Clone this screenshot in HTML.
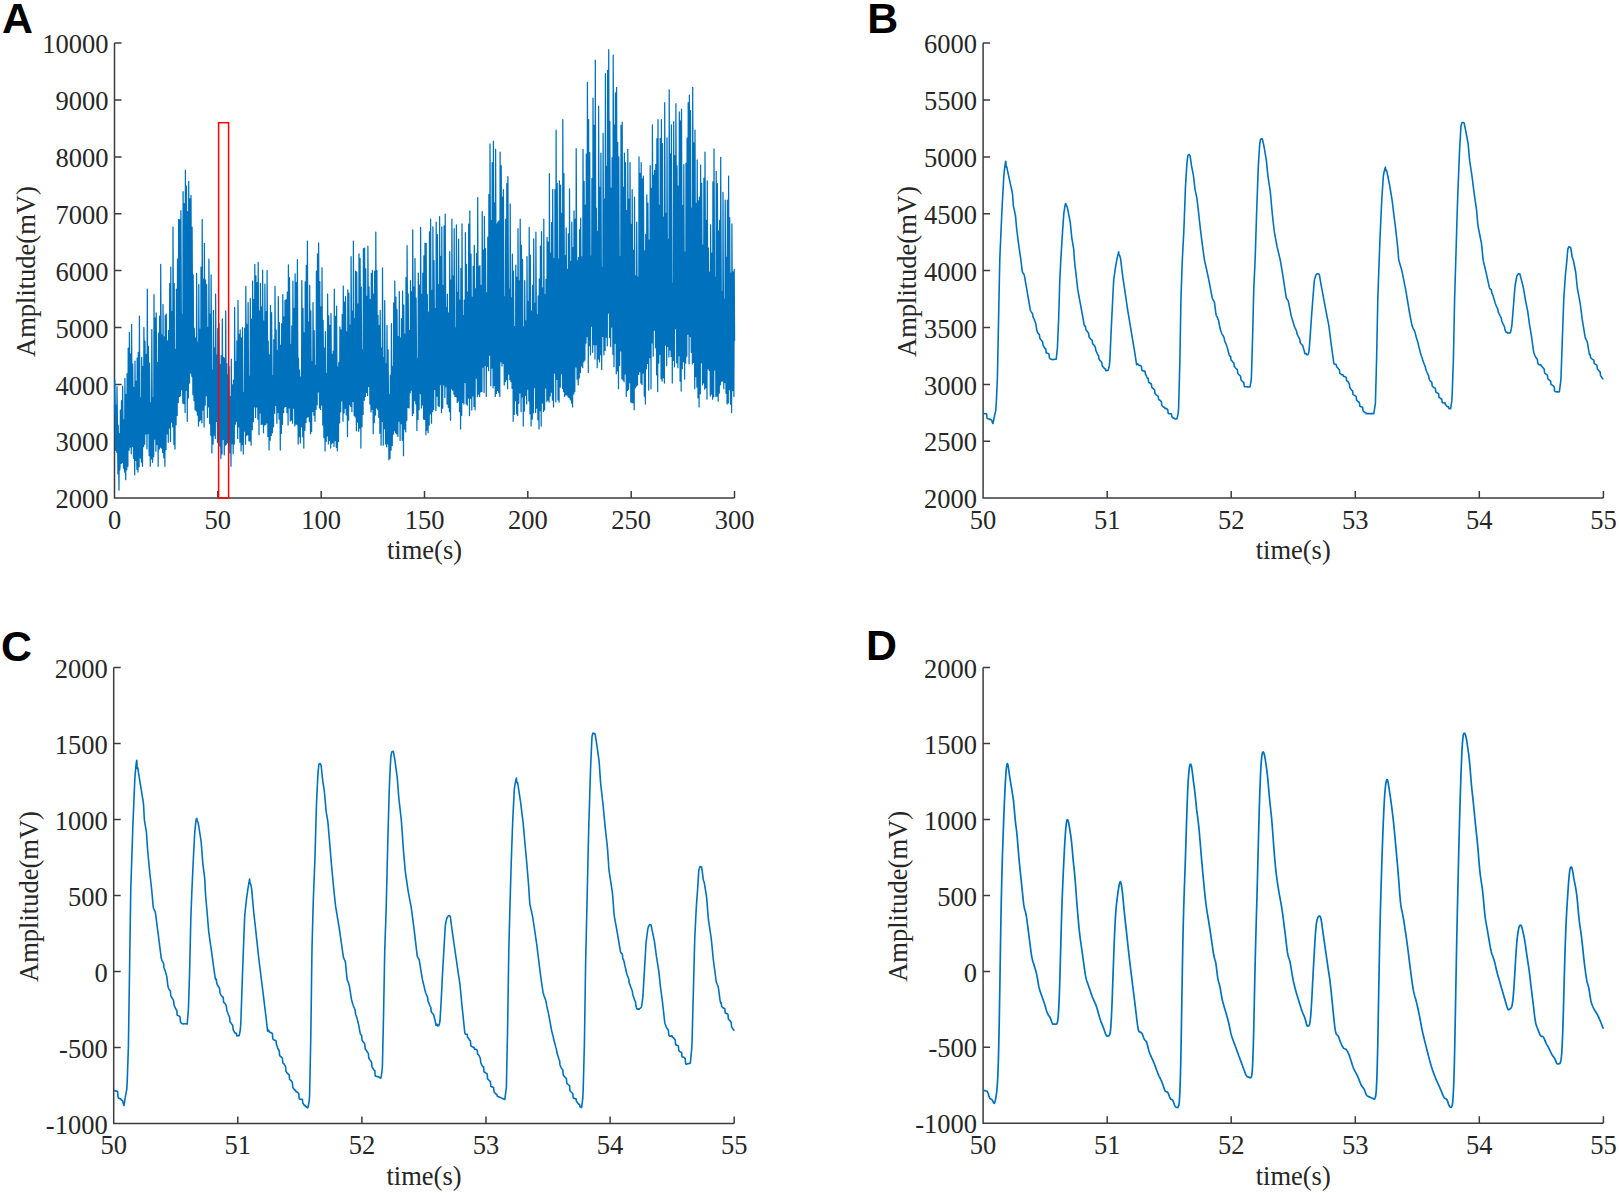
<!DOCTYPE html>
<html lang="en">
<head>
<meta charset="utf-8">
<title>Figure</title>
<style>
html,body{margin:0;padding:0;background:#fff;}
body{width:1619px;height:1193px;overflow:hidden;}
svg{display:block;}
</style>
</head>
<body>
<svg width="1619" height="1193" viewBox="0 0 1619 1193">
<rect width="1619" height="1193" fill="#fff"/>
<path d="M114.5 43.1V498.1H734.5M114.5 498.1v-7M217.8 498.1v-7M321.2 498.1v-7M424.5 498.1v-7M527.8 498.1v-7M631.2 498.1v-7M734.5 498.1v-7M114.5 498.1h7M114.5 441.2h7M114.5 384.4h7M114.5 327.5h7M114.5 270.6h7M114.5 213.7h7M114.5 156.9h7M114.5 100h7M114.5 43.1h7" fill="none" stroke="#3c3c3c" stroke-width="1.5"/>
<g font-family="'Liberation Serif', 'Times New Roman', serif" font-size="26.5" fill="#262626">
<text x="114.5" y="528.7" text-anchor="middle">0</text>
<text x="217.8" y="528.7" text-anchor="middle">50</text>
<text x="321.2" y="528.7" text-anchor="middle">100</text>
<text x="424.5" y="528.7" text-anchor="middle">150</text>
<text x="527.8" y="528.7" text-anchor="middle">200</text>
<text x="631.2" y="528.7" text-anchor="middle">250</text>
<text x="734.5" y="528.7" text-anchor="middle">300</text>
<text x="108.5" y="508.2" text-anchor="end">2000</text>
<text x="108.5" y="451.3" text-anchor="end">3000</text>
<text x="108.5" y="394.5" text-anchor="end">4000</text>
<text x="108.5" y="337.6" text-anchor="end">5000</text>
<text x="108.5" y="280.7" text-anchor="end">6000</text>
<text x="108.5" y="223.8" text-anchor="end">7000</text>
<text x="108.5" y="167" text-anchor="end">8000</text>
<text x="108.5" y="110.1" text-anchor="end">9000</text>
<text x="108.5" y="53.2" text-anchor="end">10000</text>
<text x="424.5" y="559.3" text-anchor="middle">time(s)</text>
<text transform="translate(35.1 271.6) rotate(-90)" text-anchor="middle">Amplitude(mV)</text>
</g>
<path d="M983.1 43.1V498.1H1603.4M983.1 498.1v-7M1107.2 498.1v-7M1231.2 498.1v-7M1355.3 498.1v-7M1479.3 498.1v-7M1603.4 498.1v-7M983.1 498.1h7M983.1 441.2h7M983.1 384.4h7M983.1 327.5h7M983.1 270.6h7M983.1 213.7h7M983.1 156.9h7M983.1 100h7M983.1 43.1h7" fill="none" stroke="#3c3c3c" stroke-width="1.5"/>
<g font-family="'Liberation Serif', 'Times New Roman', serif" font-size="26.5" fill="#262626">
<text x="983.1" y="528.7" text-anchor="middle">50</text>
<text x="1107.2" y="528.7" text-anchor="middle">51</text>
<text x="1231.2" y="528.7" text-anchor="middle">52</text>
<text x="1355.3" y="528.7" text-anchor="middle">53</text>
<text x="1479.3" y="528.7" text-anchor="middle">54</text>
<text x="1603.4" y="528.7" text-anchor="middle">55</text>
<text x="977.1" y="508.2" text-anchor="end">2000</text>
<text x="977.1" y="451.3" text-anchor="end">2500</text>
<text x="977.1" y="394.5" text-anchor="end">3000</text>
<text x="977.1" y="337.6" text-anchor="end">3500</text>
<text x="977.1" y="280.7" text-anchor="end">4000</text>
<text x="977.1" y="223.8" text-anchor="end">4500</text>
<text x="977.1" y="167" text-anchor="end">5000</text>
<text x="977.1" y="110.1" text-anchor="end">5500</text>
<text x="977.1" y="53.2" text-anchor="end">6000</text>
<text x="1293.2" y="559.3" text-anchor="middle">time(s)</text>
<text transform="translate(915.5 271.6) rotate(-90)" text-anchor="middle">Amplitude(mV)</text>
</g>
<path d="M113.7 667.5V1123.4H734.2M113.7 1123.4v-7M237.8 1123.4v-7M361.9 1123.4v-7M486 1123.4v-7M610.1 1123.4v-7M734.2 1123.4v-7M113.7 1123.4h7M113.7 1047.4h7M113.7 971.4h7M113.7 895.5h7M113.7 819.5h7M113.7 743.5h7M113.7 667.5h7" fill="none" stroke="#3c3c3c" stroke-width="1.5"/>
<g font-family="'Liberation Serif', 'Times New Roman', serif" font-size="26.5" fill="#262626">
<text x="113.7" y="1154" text-anchor="middle">50</text>
<text x="237.8" y="1154" text-anchor="middle">51</text>
<text x="361.9" y="1154" text-anchor="middle">52</text>
<text x="486" y="1154" text-anchor="middle">53</text>
<text x="610.1" y="1154" text-anchor="middle">54</text>
<text x="734.2" y="1154" text-anchor="middle">55</text>
<text x="107.7" y="1133.5" text-anchor="end">-1000</text>
<text x="107.7" y="1057.5" text-anchor="end">-500</text>
<text x="107.7" y="981.5" text-anchor="end">0</text>
<text x="107.7" y="905.6" text-anchor="end">500</text>
<text x="107.7" y="829.6" text-anchor="end">1000</text>
<text x="107.7" y="753.6" text-anchor="end">1500</text>
<text x="107.7" y="677.6" text-anchor="end">2000</text>
<text x="424" y="1184.6" text-anchor="middle">time(s)</text>
<text transform="translate(37.7 896.5) rotate(-90)" text-anchor="middle">Amplitude(mV)</text>
</g>
<path d="M983.1 667.5V1123.3H1603.4M983.1 1123.3v-7M1107.2 1123.3v-7M1231.2 1123.3v-7M1355.3 1123.3v-7M1479.3 1123.3v-7M1603.4 1123.3v-7M983.1 1123.3h7M983.1 1047.3h7M983.1 971.4h7M983.1 895.4h7M983.1 819.4h7M983.1 743.5h7M983.1 667.5h7" fill="none" stroke="#3c3c3c" stroke-width="1.5"/>
<g font-family="'Liberation Serif', 'Times New Roman', serif" font-size="26.5" fill="#262626">
<text x="983.1" y="1153.9" text-anchor="middle">50</text>
<text x="1107.2" y="1153.9" text-anchor="middle">51</text>
<text x="1231.2" y="1153.9" text-anchor="middle">52</text>
<text x="1355.3" y="1153.9" text-anchor="middle">53</text>
<text x="1479.3" y="1153.9" text-anchor="middle">54</text>
<text x="1603.4" y="1153.9" text-anchor="middle">55</text>
<text x="977.1" y="1133.4" text-anchor="end">-1000</text>
<text x="977.1" y="1057.4" text-anchor="end">-500</text>
<text x="977.1" y="981.5" text-anchor="end">0</text>
<text x="977.1" y="905.5" text-anchor="end">500</text>
<text x="977.1" y="829.5" text-anchor="end">1000</text>
<text x="977.1" y="753.6" text-anchor="end">1500</text>
<text x="977.1" y="677.6" text-anchor="end">2000</text>
<text x="1293.2" y="1184.5" text-anchor="middle">time(s)</text>
<text transform="translate(907.1 896.4) rotate(-90)" text-anchor="middle">Amplitude(mV)</text>
</g>
<g fill="none" stroke="#0072BD" stroke-linejoin="round">
<path d="M114.5 413.6L114.8 379.8L115.2 404.7L115.6 450.3L115.9 405.2L116.4 435.7L116.7 452.2L117 386.7L117.5 427.5L117.9 473.9L118.2 425.1L118.6 457.5L119 490.2L119.3 433.6L119.7 469.9L120.1 466.2L120.4 410.1L120.8 446.1L121.2 463.4L121.5 400.6L122 440L122.3 462.5L122.6 386.2L123.1 432.3L123.5 468.2L123.8 419.8L124.2 452L124.6 472.1L124.9 378.3L125.3 433.2L125.7 479.7L126 394.5L126.5 445.1L126.8 469.8L127.1 373.6L127.6 429.7L127.9 466.3L128.2 348.2L128.7 415.2L129.1 450.2L129.4 332.3L129.8 399.3L130.2 447.1L130.5 353.8L130.9 408.5L131.3 453.8L131.6 324.3L132 397.1L132.4 446.5L132.7 364.1L133.2 413.3L133.5 458.3L133.8 387.3L134.3 430.8L134.7 474.9L135 361.1L135.4 426L135.8 460.3L136.1 381.2L136.5 428.8L136.9 469.3L137.2 358L137.6 421.7L138 472L138.3 352.3L138.8 420.2L139.1 466.6L139.4 316.1L139.9 399.3L140.3 457.8L140.6 397.9L141 435.8L141.4 462.1L141.7 357.4L142.1 417.7L142.5 466.3L142.8 366.5L143.2 424.4L143.6 446.7L143.9 327.5L144.4 395.1L144.7 444.2L145 341L145.5 400.6L145.9 434L146.2 354.4L146.6 402.2L147 448.9L147.3 289.2L147.7 377.1L148.1 433.5L148.4 346.4L148.8 397.9L149.2 455.5L149.5 363.1L150 417.3L150.3 466.3L150.6 402.9L151.1 442.6L151.5 458.9L151.8 329.5L152.2 402.2L152.6 462.3L152.9 397.6L153.3 437.9L153.7 456.7L154 294.6L154.4 383.6L154.8 439.1L155.1 317.8L155.6 386.4L155.9 451.2L156.2 312.8L156.7 390L157.1 444.5L157.4 362.7L157.8 411.6L158.2 466.3L158.5 333L158.9 407.6L159.3 449.1L159.6 316.1L160 390.6L160.4 447.1L160.7 264.4L161.2 363.7L161.5 448L161.8 334.8L162.3 399.4L162.7 452.7L163 304.5L163.4 386.6L163.8 457.8L164.1 336.9L164.5 405.4L164.9 466.3L165.2 315.5L165.6 398.9L166 449.5L166.3 314.1L166.8 389.8L167.1 433.9L167.4 340.8L167.9 395.3L168.3 442.3L168.6 330.4L169 394.4L169.4 427.8L169.7 283.5L170.1 363.7L170.5 441.4L170.8 267.2L171.2 362.3L171.6 422.2L171.9 311.5L172.4 374.9L172.7 426.9L173 227L173.5 335L173.9 444.5L174.2 283.4L174.6 372L175 449L175.3 349.3L175.7 407.2L176.1 424.7L176.4 289.2L176.8 365L177.2 415.5L177.5 259.1L178 345.3L178.3 402.7L178.6 219.4L179.1 319L179.5 396.4L179.8 219.8L180.2 316.1L180.6 395.8L180.9 210.7L181.3 311.2L181.7 389.6L182 314.5L182.4 360.1L182.8 403L183.1 191.6L183.6 305.3L183.9 403.7L184.2 203.5L184.7 311.6L185.1 412.6L185.4 170L185.8 299.3L186.2 390.1L186.5 186L186.9 296.1L187.3 421.3L187.6 211.7L188.1 324.5L188.4 397.9L188.7 181.4L189.2 297.7L189.5 383L189.8 198.8L190.3 298.9L190.7 373.1L191 195.4L191.4 292.3L191.8 376.3L192.1 227L192.5 309.6L192.9 394.5L193.2 274.9L193.6 342.7L194 400.6L194.3 328.4L194.8 372.5L195.1 409.8L195.4 337.9L195.9 381.9L196.3 411.1L196.6 273.4L197 350.2L197.4 415L197.7 342.3L198.1 386.7L198.5 426.1L198.8 284.5L199.2 363.3L199.6 421.1L199.9 329.1L200.4 383.1L200.7 419.8L201 267.2L201.5 351.5L201.9 422.8L202.2 219.4L202.6 329.1L203 409.8L203.3 279.1L203.7 352.5L204.1 427L204.4 243.3L204.8 343.2L205.2 405.2L205.5 280L206 350.6L206.3 395.5L206.6 284.5L207.1 348L207.5 417.4L207.8 327.5L208.2 380.5L208.6 406.9L208.9 259.2L209.3 341L209.7 423.7L210 314.1L210.4 376.9L210.8 435.3L211.1 274.9L211.6 363.1L211.9 452.9L212.2 369.8L212.7 419.3L213.1 444.1L213.4 310.3L213.8 385.2L214.2 435.1L214.5 347.9L214.9 399.5L215.3 438.5L215.6 294L216.1 374.3L216.4 421.3L216.7 355.1L217.2 396.2L217.5 442.3L217.8 328.5L218.3 393.4L218.7 438.6L219 323.6L219.4 389.1L219.8 446.1L220.1 364.5L220.5 413.3L220.9 458.6L221.2 355.6L221.6 415.1L222 453.9L222.3 318.9L222.8 394.4L223.1 439.4L223.4 357.3L223.9 406.3L224.3 454.8L224.6 358.1L225 414.5L225.4 445.1L225.7 310.9L226.1 386L226.5 444.2L226.8 363.6L227.2 411.9L227.6 442.6L227.9 374.9L228.4 416.8L228.7 441.6L229 366.7L229.5 412.1L229.9 452.9L230.2 396.7L230.6 432.8L231 466.3L231.3 359.1L231.7 420.7L232.1 443.7L232.4 384.9L232.8 422.3L233.2 453.8L233.5 380.2L234 425L234.3 444L234.6 307.4L235.1 383.7L235.5 424.2L235.8 361.7L236.2 401L236.6 421.2L236.9 340.8L237.3 389L237.7 438.5L238 300.4L238.4 377.4L238.8 426.9L239.1 334.3L239.6 388.6L239.9 442.3L240.2 329.8L240.7 394L241.1 450.9L241.4 338L241.8 402.5L242.2 444.6L242.5 327.5L242.9 394.1L243.3 454L243.6 392.6L244.1 431.3L244.4 426.3L244.7 328.1L245.2 385.2L245.5 444.2L245.8 286.4L246.3 373.3L246.7 435.3L247 324.4L247.4 387.8L247.8 434.7L248.1 302.6L248.5 376.7L248.9 440.8L249.2 376.4L249.6 416.6L250 441L250.3 298.5L250.8 377.8L251.1 445.2L251.4 319.1L251.9 390.1L252.3 429.7L252.6 281L253 363.4L253.4 421.5L253.7 299.4L254.1 368.4L254.5 406.8L254.8 264.4L255.2 343.6L255.6 417.4L255.9 275.8L256.4 354.6L256.7 407.1L257 282.7L257.5 352.9L257.9 419.1L258.2 262.4L258.6 348.8L259 434.7L259.3 310.8L259.7 380.8L260.1 412.8L260.4 283.5L260.9 356.2L261.2 424.5L261.5 306.9L262 373.7L262.3 424L262.6 270.1L263.1 355.1L263.5 432.8L263.8 321L264.2 384.9L264.6 424.9L264.9 284.1L265.3 362.5L265.7 424.4L266 311.6L266.4 376L266.8 422.9L267.1 270.5L267.6 354.7L267.9 436.4L268.2 341.2L268.7 396.8L269.1 450L269.4 354.9L269.8 410.4L270.2 440.2L270.5 305.5L270.9 380.9L271.3 435.5L271.6 312.6L272.1 382L272.4 432.8L272.7 375.8L273.2 412.3L273.5 426.8L273.8 339.7L274.3 391.2L274.7 413.3L275 286.4L275.4 357.9L275.8 405.4L276.1 329.9L276.5 375.7L276.9 423.2L277.2 350.5L277.6 394.8L278 412.5L278.3 296.5L278.8 362.5L279.1 419.1L279.4 322.7L279.9 378.9L280.3 450L280.6 345.2L281 405.6L281.4 433.4L281.7 323.6L282.1 386.5L282.5 424.3L282.8 294.6L283.2 367.4L283.6 412.6L283.9 316.9L284.4 372.8L284.7 407L285 300.3L285.5 361.7L285.9 406.4L286.2 299.7L286.6 361L287 412.7L287.3 292.1L287.7 360.4L288.1 425.1L288.4 264.9L288.9 353L289.2 407.8L289.5 277.7L290 350.7L290.3 421.1L290.6 344.6L291.1 390.8L291.5 420.1L291.8 325.9L292.2 381L292.6 423.2L292.9 281L293.3 360.1L293.7 408.2L294 308.4L294.4 366.3L294.8 425.9L295.1 273.9L295.6 357.9L295.9 424L296.2 282.3L296.7 361.2L297.1 424.5L297.4 259.6L297.8 350L298.2 444.2L298.5 358.4L298.9 409.3L299.3 436.6L299.6 370L300.1 411.3L300.4 442.9L300.7 377L301.2 418L301.5 426.8L301.8 280.6L302.3 361.7L302.7 436.8L303 308.4L303.4 380.6L303.8 448.1L304.1 332.9L304.5 398.5L304.9 430.3L305.2 281.8L305.6 364L306 422.6L306.3 265.3L306.8 351.9L307.1 417.4L307.4 241L307.9 337.2L308.3 416.6L308.6 322.2L309 377.4L309.4 421.7L309.7 285.3L310.1 361.5L310.5 433.7L310.8 310.9L311.2 380.3L311.6 431.6L311.9 361.5L312.4 404.6L312.7 411.5L313 302.6L313.5 365.1L313.9 415.3L314.2 330.7L314.6 381L315 421.3L315.3 365.7L315.7 401.5L316.1 409.4L316.4 271.1L316.9 348.2L317.2 404.8L317.5 253.8L318 337.3L318.3 391.8L318.6 242.9L319.1 325.3L319.5 407.9L319.8 281.6L320.2 352.7L320.6 409.4L320.9 306.8L321.3 366.1L321.7 405L322 267.8L322.4 344.4L322.8 425.1L323.1 320.4L323.6 380.7L323.9 437.7L324.2 348.1L324.7 400.9L325.1 450.9L325.4 331.7L325.8 399.3L326.2 441.3L326.5 373.5L326.9 415.4L327.3 435.9L327.6 294L328.1 373L328.4 443.9L328.7 315.9L329.2 387.9L329.5 440.5L329.8 325.4L330.3 391L330.7 448.1L331 313.5L331.4 388.8L331.8 443.6L332.1 354.4L332.5 407L332.9 442.4L333.2 351.2L333.7 404.8L334 446.4L334.3 289.2L334.8 375.8L335.1 440.5L335.4 316.4L335.9 386.5L336.3 447.3L336.6 306.2L337 384.7L337.4 450.9L337.7 367L338.1 417L338.5 441.6L338.8 362.3L339.2 409.9L339.6 422.8L339.9 327L340.4 382.9L340.7 411.8L341 330L341.5 378.9L341.9 400.8L342.2 314.4L342.6 365.6L343 421.3L343.3 286L343.7 361.6L344.1 413L344.4 302.1L344.9 365.5L345.2 408.3L345.5 296.7L346 360.5L346.3 414.8L346.6 332L347.1 381.4L347.5 436.6L347.8 289.8L348.2 371.2L348.6 420.2L348.9 293.1L349.3 364.6L349.7 404.6L350 325.1L350.4 372.8L350.8 406.4L351.1 256.7L351.6 339.6L351.9 411.7L352.2 311.1L352.7 369.4L353.1 401.6L353.4 241L353.8 329.3L354.2 415.5L354.5 318.6L354.9 375L355.3 416.8L355.6 271.2L356.1 352L356.4 430.8L356.7 272L357.2 359.4L357.5 422.1L357.8 304.2L358.3 371.2L358.7 431.3L359 253.8L359.4 350.6L359.8 428.1L360.1 258.3L360.5 351.2L360.9 448.1L361.2 287L361.7 375.6L362 426.7L362.3 349.8L362.8 396.2L363.1 414.4L363.4 248.7L363.9 339.5L364.3 400.2L364.6 248.1L365 332.1L365.4 396.6L365.7 268.8L366.1 340.7L366.5 392.4L366.8 296.3L367.2 352.3L367.6 395.6L367.9 246.2L368.4 328.9L368.7 386.3L369 286.9L369.5 344.6L369.9 404L370.2 299.5L370.6 359.8L371 412L371.3 273.5L371.7 350.7L372.1 409.3L372.4 270.5L372.9 347.9L373.2 433.7L373.5 294.2L374 372L374.3 422.7L374.6 271.1L375.1 354.9L375.5 415L375.8 232.2L376.2 331.6L376.6 407.9L376.9 270.7L377.3 347.3L377.7 409.5L378 315.3L378.5 370.4L378.8 417.4L379.1 325.7L379.6 379.5L379.9 433.3L380.2 310.3L380.7 379.8L381.1 445.2L381.4 348.1L381.8 404.6L382.2 421.4L382.5 267.8L382.9 352.6L383.3 445.2L383.6 357.7L384.1 409.4L384.4 428.6L384.7 300.7L385.2 372.7L385.5 443.9L385.8 363.7L386.3 411.8L386.7 446.9L387 325.7L387.4 394.3L387.8 443.8L388.1 349.9L388.5 404.8L388.9 459.8L389.2 394.5L389.7 435.1L390 458.6L390.3 375.3L390.8 425L391.1 450.1L391.4 323.7L391.9 394.9L392.3 445.4L392.6 366.4L393 413.9L393.4 434.1L393.7 302.9L394.1 376.5L394.5 430.9L394.8 281L395.2 364L395.6 432.8L395.9 297L396.4 372.9L396.7 433.9L397 309.5L397.5 379.7L397.9 436.4L398.2 336.7L398.6 394.6L399 421.2L399.3 291.5L399.7 364.4L400.1 440.5L400.4 338.2L400.9 397.3L401.2 423.7L401.5 318.6L402 379.1L402.3 440.3L402.6 291.2L403.1 373.7L403.5 455.7L403.8 305L404.2 388.4L404.6 429L404.9 334.1L405.3 389.5L405.7 431.8L406 277.5L406.5 362.7L406.8 420.3L407.1 245.6L407.6 341L407.9 407.4L408.2 293.8L408.7 358.6L409.1 407.9L409.4 330.7L409.8 377.3L410.2 392.8L410.5 280.6L410.9 344.7L411.3 390.1L411.6 291.6L412.1 348.8L412.4 415.5L412.7 229.9L413.2 330.7L413.5 413.2L413.8 287L414.3 358.1L414.7 400.7L415 258.6L415.4 337.7L415.8 403.9L416.1 298L416.5 358.9L416.9 430.5L417.2 358.5L417.7 402.5L418 419.4L418.3 273L418.8 354.2L419.1 409.6L419.4 285.1L419.9 355.4L420.3 393.7L420.6 227.4L421 318.5L421.4 407.9L421.7 294.3L422.1 359.1L422.5 404.9L422.8 273.1L423.3 347L423.6 419.1L423.9 255.8L424.4 345.4L424.7 419.4L425 243.1L425.5 339.2L425.9 434.7L426.2 243.4L426.6 347L427 430L427.3 294.5L427.7 370.2L428.1 432.8L428.4 312.2L428.9 380.5L429.2 425L429.5 231.9L430 336.5L430.3 413.8L430.6 219.2L431.1 324.5L431.5 423.2L431.8 290.3L432.2 364.7L432.6 411.6L432.9 226.8L433.3 327.2L433.7 409.4L434 260.6L434.5 343L434.8 389.4L435.1 308.6L435.6 357L435.9 410.7L436.2 222L436.7 324.4L437.1 396.2L437.4 234.6L437.8 323.4L438.2 405.8L438.5 284.6L438.9 353.2L439.3 406.6L439.6 216.7L440.1 319.6L440.4 384.5L440.7 256.5L441.2 328.5L441.5 412.6L441.8 226.8L442.3 327.7L442.7 408.2L443 285.6L443.4 354.9L443.8 384.9L444.1 225.8L444.5 313.3L444.9 397.5L445.2 214L445.7 313.7L446 386.7L446.3 307.7L446.8 355.2L447.1 404L447.4 294.2L447.9 357.1L448.3 407.3L448.6 312.9L449 368.1L449.4 411.6L449.7 251.7L450.1 339.7L450.5 420.3L450.8 280.1L451.3 358.2L451.6 388.6L451.9 219.2L452.4 311.9L452.7 390.2L453 276L453.5 341.1L453.9 394.2L454.2 228.7L454.6 319.5L455 396.4L455.3 328L455.7 370.2L456.1 396.6L456.4 224.9L456.9 318.7L457.2 402.5L457.5 292.3L458 355.4L458.3 401L458.6 239.2L459.1 328.1L459.5 411.6L459.8 300.2L460.2 363.9L460.6 428.9L460.9 268.3L461.3 356.6L461.7 415.3L462 223.9L462.5 327.6L462.8 402.4L463.1 315.7L463.6 367.1L463.9 404L464.2 300.1L464.7 360.1L465.1 382.5L465.4 232.6L465.8 315.5L466.2 403.8L466.5 264.4L466.9 342.1L467.3 405.2L467.6 292.1L468.1 356.6L468.4 397.8L468.7 224L469.2 318.9L469.5 415.5L469.8 210.9L470.3 321.2L470.7 398.3L471 254L471.4 334.2L471.8 410.1L472.1 297.2L472.5 361.6L472.9 395.8L473.2 266.4L473.7 339.1L474 406.6L474.3 245.4L474.8 334L475.1 409.8L475.4 288.8L475.9 357.3L476.3 378.2L476.6 253.3L477 323.8L477.4 396.5L477.7 197.7L478.1 305.1L478.5 394L478.8 266.8L479.3 338.4L479.6 396.4L479.9 265.5L480.4 338.9L480.7 391.9L481 285.5L481.5 346.7L481.9 391.4L482.2 211.5L482.6 309.4L483 367L483.3 250.2L483.7 316.6L484.1 392.5L484.4 216.3L484.9 312.4L485.2 365.4L485.5 248.7L486 315L486.3 396.4L486.6 292.9L487.1 352.6L487.5 366.3L487.8 237.2L488.2 309.8L488.6 370.7L488.9 194.3L489.3 290.5L489.7 355.1L490 143.9L490.5 257.5L490.8 385.8L491.1 220.5L491.6 311.2L491.9 368L492.2 162.5L492.7 273.2L493.1 387.9L493.4 141.2L493.8 272.6L494.2 385.4L494.5 202.8L494.9 302.1L495.3 396.4L495.6 149.3L496.1 280.8L496.4 393.4L496.7 224L497.2 316.7L497.5 390.4L497.8 222L498.3 314.2L498.7 392.7L499 220.7L499.4 314.7L499.8 396.4L500.1 152.1L500.5 282.3L500.9 361.6L501.2 165.5L501.7 271.6L502 366L502.3 197.1L502.8 289.5L503.1 363.3L503.4 189.5L503.9 284.4L504.3 384.9L504.6 296.9L505 348.9L505.4 381.6L505.7 219.3L506.1 308.5L506.5 379.5L506.8 183.7L507.3 289.6L507.6 388.7L507.9 176.5L508.4 290.6L508.7 374.1L509 288.9L509.5 339.5L509.9 379.7L510.2 203.8L510.6 299.8L511 381.7L511.3 297.9L511.7 347.8L512.1 388.4L512.4 254.1L512.9 329.2L513.2 421.3L513.5 271.2L514 354.2L514.3 414.4L514.6 326.6L515.1 378.5L515.5 400.7L515.8 265.1L516.2 340.9L516.6 413.8L516.9 277.2L517.3 353.5L517.7 415.5L518 228.7L518.5 330.1L518.8 403.3L519.1 280.9L519.6 350.1L519.9 392.8L520.2 219.2L520.7 314L521.1 411.7L521.4 245.1L521.8 336.4L522.2 396.8L522.5 259.4L522.9 336.1L523.3 426.1L523.6 327L524.1 384.5L524.4 411L524.7 280.6L525.2 353.8L525.5 395.4L525.8 320.9L526.3 366.2L526.7 404L527 256.5L527.4 338.3L527.8 389.2L528.1 301.5L528.5 353.4L528.9 401.1L529.2 227.4L529.7 322.2L530 413.8L530.3 255.2L530.8 342.5L531.1 426.1L531.4 311.1L531.9 376.6L532.3 419.1L532.6 285.3L533 360.2L533.4 412.8L533.7 238.8L534.1 333.8L534.5 387.5L534.8 303.4L535.3 353.4L535.6 412.6L535.9 232.2L536.4 330.4L536.7 408L537 314.7L537.5 369.4L537.9 419.8L538.2 295.8L538.6 365.8L539 428.9L539.3 278.8L539.7 361.8L540.1 410.7L540.4 246L540.9 336.3L541.2 426.1L541.5 231.6L542 336.8L542.3 402.9L542.6 288L543.1 353.4L543.5 411.4L543.8 219.2L544.2 323.3L544.6 409.8L544.9 294.7L545.3 360.2L545.7 387.9L546 279.3L546.5 341.6L546.8 401.5L547.1 237.3L547.6 327.4L547.9 400.1L548.2 242.2L548.7 329.2L549.1 402.1L549.4 173.6L549.8 295.9L550.2 396.1L550.5 253L550.9 332.6L551.3 392.2L551.6 222.5L552.1 315.3L552.4 400.2L552.7 189.5L553.2 302.9L553.5 406.9L553.8 258.7L554.3 340.8L554.7 373.1L555 189.5L555.4 289.3L555.8 401.8L556.1 130.1L556.5 274L556.9 379.3L557.2 183.3L557.7 289.3L558 399.8L558.3 259.1L558.8 337.5L559.1 402.1L559.4 180.9L559.9 299.5L560.3 387L560.6 185.2L561 294.1L561.4 373.6L561.7 213.3L562.1 301.5L562.5 388.4L562.8 119.6L563.3 262L563.6 391.6L563.9 173.6L564.4 290.6L564.7 396.4L565 255.7L565.5 334L565.9 394.8L566.2 227.8L566.6 319.3L567 395L567.3 269.3L567.7 340.1L568.1 396.8L568.4 233.9L568.9 323.3L569.2 397.5L569.5 188.9L570 301.2L570.3 399.8L570.6 261.5L571.1 338.7L571.5 403L571.8 222L572.2 320.5L572.6 406.9L572.9 247.7L573.3 335.3L573.7 393.9L574 210.9L574.5 310.4L574.8 391.6L575.1 219L575.6 313.3L575.9 366.9L576.2 148.7L576.7 265.8L577.1 379L577.4 260.8L577.8 327.9L578.2 384.9L578.5 257.4L578.9 329.1L579.3 377.9L579.6 229.7L580.1 311.8L580.4 372.5L580.7 218.2L581.2 303.4L581.5 365.9L581.8 256.8L582.3 319.3L582.7 367.7L583 149.3L583.4 266.5L583.8 361.7L584.1 181.3L584.5 279.5L584.9 360L585.2 205.2L585.7 290.6L586 343.1L586.3 154.1L586.8 256.6L587.1 336.7L587.4 82.3L587.9 217.5L588.3 372.4L588.6 119.6L589 254L589.4 345.6L589.7 152.7L590.1 257.2L590.5 354.9L590.8 256.1L591.3 313.5L591.6 326.1L591.9 178.6L592.4 260.4L592.7 352.3L593 98L593.5 233.1L593.9 344.6L594.2 125.3L594.6 243L595 359L595.3 60.2L595.7 217.6L596.1 344.7L596.4 208.3L596.9 284.5L597.2 367.7L597.5 231.3L598 307.5L598.3 359.1L598.6 106.2L599.1 240.6L599.5 361.9L599.8 187.3L600.2 282.6L600.6 354.6L600.9 153.1L601.3 261.9L601.7 369.6L602 267.7L602.5 326.6L602.8 336.3L603.1 133.4L603.6 242.8L603.9 354.8L604.2 199L604.7 284.9L605.1 350.4L605.4 73.6L605.8 220L606.2 337.1L606.5 166.4L606.9 259.7L607.3 345.9L607.6 70.4L608.1 216.1L608.4 313L608.7 49.7L609.2 189.3L609.5 337.5L609.8 121.5L610.3 237.5L610.7 346.6L611 188.2L611.4 275.4L611.8 327L612.1 157.6L612.5 250.3L612.9 354.3L613.2 55.1L613.7 212.7L614 366.7L614.3 125.2L614.8 254L615.1 343.3L615.4 92.8L615.9 226.1L616.3 373.7L616.6 87.4L617 238.6L617.4 370.8L617.7 142.3L618.1 264.5L618.5 388.7L618.8 156.9L619.3 280.8L619.6 365.4L619.9 256.6L620.4 319L620.7 350.9L621 125.3L621.5 246.1L621.9 378.7L622.2 122.1L622.6 258.4L623 380.1L623.3 187L623.7 291.5L624.1 381.8L624.4 153.1L624.9 275.4L625.2 373.9L625.5 162.7L626 276.3L626.3 396.4L626.6 210.5L627.1 311.4L627.5 390.5L627.8 149.3L628.2 277.9L628.6 389.2L628.9 199L629.3 302.1L629.7 382.5L630 162.7L630.5 280.6L630.8 402.1L631.1 224.3L631.6 321.2L631.9 402.5L632.2 189.5L632.7 304L633.1 402.8L633.4 250.3L633.8 334.6L634.2 409.8L634.5 197.1L634.9 311.5L635.3 387.8L635.6 275.9L636.1 339.8L636.4 386.1L636.7 222L637.2 312.1L637.5 384.9L637.8 277L638.3 338.9L638.7 374.4L639 156.9L639.4 273.7L639.8 371.5L640.1 173.4L640.5 280.4L640.9 383L641.2 162.7L641.7 280.8L642 384.6L642.3 178.9L642.8 289.7L643.1 373.1L643.4 176.1L643.9 282.6L644.3 396L644.6 250.8L645 331.4L645.4 404L645.7 234.3L646.1 327.2L646.5 368.8L646.8 194.8L647.2 289.8L647.6 363.4L647.9 203.2L648.4 291.3L648.7 390.1L649 240.1L649.5 323.1L649.9 357.6L650.2 165.5L650.6 269.6L651 388.7L651.3 188.4L651.7 296.6L652.1 342.8L652.4 124.8L652.9 241.8L653.2 356.2L653.5 175.3L654 273.8L654.3 330.2L654.6 170.3L655.1 258.3L655.5 347.7L655.8 164.3L656.2 264L656.6 374.9L656.9 138.7L657.3 264.8L657.7 391.6L658 119.6L658.5 263.6L658.8 363.1L659.1 205.1L659.6 292.1L659.9 354.3L660.2 138.3L660.7 254.3L661.1 378.8L661.4 119.6L661.8 257.2L662.2 381.1L662.5 143.7L662.9 270.4L663.3 377.7L663.6 217L664.1 305.3L664.4 383L664.7 102.7L665.2 250.9L665.5 345L665.8 213.3L666.3 287.2L666.7 365.7L667 137.8L667.4 259.8L667.8 346.4L668.1 239.4L668.5 300.9L668.9 357.1L669.2 89.9L669.7 231.5L670 349.9L670.3 153.8L670.8 259.9L671.1 356.4L671.4 124.8L671.9 248.6L672.3 383L672.6 283L673 341L673.4 360.3L673.7 121.5L674.1 248.9L674.5 366.8L674.8 155.5L675.2 269.2L675.6 328.7L675.9 103.7L676.4 224.2L676.7 362.9L677 165.8L677.5 272.4L677.9 367.7L678.2 186.1L678.6 284.9L679 355.7L679.3 111.9L679.7 241.8L680.1 381.2L680.4 120.9L680.9 259.1L681.2 391L681.5 109.1L682 258L682.3 368.7L682.6 205.5L683.1 295.1L683.5 361.5L683.8 164.6L684.2 271.1L684.6 379.1L684.9 252.1L685.3 323.6L685.7 362.9L686 163.3L686.5 271.1L686.8 356.2L687.1 138.2L687.6 255.2L687.9 334.2L688.2 102.7L688.7 226.5L689.1 363.8L689.4 95.1L689.8 237.5L690.2 336.7L690.5 110.6L690.9 231.6L691.3 352.3L691.6 208L692.1 288.1L692.4 364L692.7 87.4L693.2 233.7L693.5 362.4L693.8 142.8L694.3 260.6L694.7 388.7L695 130.1L695.4 267.4L695.8 376.7L696.1 203.3L696.5 298L696.9 387L697.2 159.8L697.7 281.4L698 397.8L698.3 200.8L698.8 307.3L699.1 406.9L699.4 197.1L699.9 310L700.3 393.8L700.6 165L701 287.4L701.4 362.5L701.7 183.4L702.1 281L702.5 384.9L702.8 245.2L703.2 323.1L703.6 382.9L703.9 178L704.4 288.5L704.7 389.2L705 152.1L705.5 278.7L705.9 387.7L706.2 220.4L706.6 312L707 399.2L707.3 180.9L707.7 298.1L708.1 368.7L708.4 248L708.9 316.3L709.2 370.4L709.5 272.2L710 329.3L710.3 396.1L710.6 224.9L711.1 318.5L711.5 394L711.8 253.1L712.2 331.5L712.6 399.2L712.9 181.8L713.3 298.5L713.7 396.5L714 148.9L714.5 280.7L714.8 369.8L715.1 277L715.6 331.4L715.9 396.4L716.2 171.3L716.7 291.9L717.1 396L717.4 183.7L717.8 297.9L718.2 401.2L718.5 230.8L718.9 324L719.3 393L719.6 220.4L720.1 314.7L720.4 384.8L720.7 157.3L721.2 279.1L721.5 381.2L721.8 291.3L722.3 344.2L722.7 381.1L723 192.4L723.4 294.7L723.8 388.7L724.1 299L724.5 351.8L724.9 382.5L725.2 200L725.7 299.3L726 393.3L726.3 257.2L726.8 333.2L727.1 404L727.4 200.2L727.9 310.1L728.3 402.9L728.6 176.1L729 297.5L729.4 389.5L729.7 217.5L730.1 311.5L730.5 404.2L730.8 273.2L731.3 346.7L731.6 412.6L731.9 223.9L732.4 326.3L732.7 390.5L733 271.8L733.5 339.1L733.9 396.5L734.2 269.4L734.6 340.9" stroke-width="1.25"/>
<path d="M983 413.6L983.4 413.6L983.8 413.6L984.2 413.7L984.6 413.7L985 413.8L985.4 413.8L985.8 413.8L986.2 413.8L986.6 413.9L987 417.8L987.4 418.7L987.8 418.7L988.2 418.8L988.6 418.8L989 419L989.4 419.1L989.8 419L990.2 419.7L990.6 419.8L991 419.8L991.4 420.2L991.8 420.5L992.2 422L992.6 422.8L993 423.5L993.4 421.5L993.8 419.5L994.2 417.5L994.6 415.5L995 413.8L995.4 412.1L995.8 410.3L996.2 404.7L996.6 396.1L997 387.5L997.4 377.9L997.8 357.9L998.2 337.9L998.6 317.9L999 297.9L999.4 277.9L999.8 259L1000.2 249.9L1000.6 240.7L1001 231.5L1001.4 222.4L1001.8 213.2L1002.2 205.3L1002.6 198.1L1003 190.9L1003.4 183.7L1003.8 176.5L1004.2 171.8L1004.6 168.7L1005 165.5L1005.4 162.6L1005.8 161.3L1006.2 167.3L1006.6 166.6L1007 167.6L1007.4 170.1L1007.8 171.9L1008.2 173.8L1008.6 175.6L1009 177.5L1009.4 179.3L1009.8 181.2L1010.2 183L1010.6 184.8L1011 186.7L1011.4 188.5L1011.8 190.4L1012.2 192.2L1012.6 194.8L1013 200.8L1013.4 206.1L1013.8 207.9L1014.2 209.7L1014.6 211.5L1015 213.3L1015.4 215.1L1015.8 219.1L1016.2 223.9L1016.6 228.3L1017 231.5L1017.4 234.7L1017.8 237.9L1018.2 241.1L1018.6 244.2L1019 247L1019.4 249.7L1019.8 252.4L1020.2 255.2L1020.6 257.9L1021 260.8L1021.4 264.2L1021.8 267.7L1022.2 271.1L1022.6 272.4L1023 273L1023.4 273.6L1023.8 274.2L1024.2 274.8L1024.6 276.7L1025 279L1025.4 281.3L1025.8 283.6L1026.2 285.9L1026.6 288.2L1027 290.6L1027.4 292.9L1027.8 295.3L1028.2 297.6L1028.6 300L1029 302.3L1029.4 304.7L1029.8 307L1030.2 309.4L1030.6 310.6L1031 311.5L1031.4 312.3L1031.8 312.7L1032.2 313.2L1032.6 314L1033 317L1033.4 317.7L1033.8 318.5L1034.2 319.3L1034.6 320.4L1035 321.5L1035.4 322.6L1035.8 323.7L1036.2 326.2L1036.6 329L1037 331.1L1037.4 332L1037.8 332.9L1038.2 333.4L1038.6 333.7L1039 334.2L1039.4 334.8L1039.8 338.2L1040.2 338.7L1040.6 339.3L1041 339.8L1041.4 340.2L1041.8 340.7L1042.2 341.3L1042.6 341.8L1043 345L1043.4 345.7L1043.8 346.4L1044.2 347.2L1044.6 348L1045 348.5L1045.4 348.8L1045.8 349L1046.2 352.8L1046.6 352.9L1047 353.1L1047.4 353.2L1047.8 353.4L1048.2 353.6L1048.6 353.7L1049 354.1L1049.4 357.7L1049.8 358.3L1050.2 358.7L1050.6 359.1L1051 359.3L1051.4 359.3L1051.8 359.4L1052.2 359.6L1052.6 359.6L1053 359.5L1053.4 359.5L1053.8 359.4L1054.2 359.4L1054.6 359.3L1055 359.3L1055.4 359.2L1055.8 359.2L1056.2 359.2L1056.6 355.5L1057 351.7L1057.4 347.9L1057.8 338.8L1058.2 329.5L1058.6 320.1L1059 306.9L1059.4 293.6L1059.8 280.3L1060.2 272.1L1060.6 264.1L1061 256.8L1061.4 250.2L1061.8 243.6L1062.2 237L1062.6 230.8L1063 225.1L1063.4 219.4L1063.8 213.7L1064.2 210.9L1064.6 208.2L1065 205.5L1065.4 204L1065.8 203.6L1066.2 205.3L1066.6 205.8L1067 206.6L1067.4 208.1L1067.8 209.8L1068.2 211.8L1068.6 213.8L1069 215.8L1069.4 217.8L1069.8 219.8L1070.2 221.8L1070.6 225.8L1071 229.8L1071.4 233.8L1071.8 237.8L1072.2 240.2L1072.6 242.6L1073 245L1073.4 247.4L1073.8 250L1074.2 257L1074.6 261.9L1075 265.4L1075.4 268.8L1075.8 272.2L1076.2 275.8L1076.6 279.4L1077 283L1077.4 286.6L1077.8 290.1L1078.2 292.2L1078.6 294.4L1079 296.5L1079.4 298.6L1079.8 300.8L1080.2 302.9L1080.6 305L1081 307.2L1081.4 309.5L1081.8 311.7L1082.2 313.9L1082.6 316.2L1083 318.4L1083.4 320.7L1083.8 322.9L1084.2 325L1084.6 325.8L1085 326.3L1085.4 326.1L1085.8 329.4L1086.2 330L1086.6 330.5L1087 331.1L1087.4 331.6L1087.8 332.2L1088.2 332.8L1088.6 333.4L1089 336.7L1089.4 337.3L1089.8 338L1090.2 338.5L1090.6 339L1091 339.4L1091.4 339.7L1091.8 339.9L1092.2 340.1L1092.6 343.9L1093 344.2L1093.4 344.5L1093.8 344.9L1094.2 345.3L1094.6 345.8L1095 346.5L1095.4 347.4L1095.8 350.4L1096.2 351.1L1096.6 352L1097 352.9L1097.4 353.8L1097.8 354.5L1098.2 355.2L1098.6 355.8L1099 359.1L1099.4 359.6L1099.8 360.2L1100.2 360.6L1100.6 361L1101 361.4L1101.4 361.9L1101.8 362.4L1102.2 365.8L1102.6 366.2L1103 366.8L1103.4 367.4L1103.8 367.9L1104.2 368.2L1104.6 368.6L1105 368.7L1105.4 368.7L1105.8 370.6L1106.2 370.6L1106.6 370.5L1107 370.5L1107.4 370.4L1107.8 370.4L1108.2 370.3L1108.6 368.9L1109 367L1109.4 365.1L1109.8 361.2L1110.2 352.4L1110.6 343.6L1111 334.8L1111.4 326L1111.8 317.5L1112.2 309.5L1112.6 301.5L1113 293.5L1113.4 285.5L1113.8 279.1L1114.2 276.3L1114.6 273.5L1115 270.7L1115.4 267.9L1115.8 265.3L1116.2 263.2L1116.6 261.1L1117 258.9L1117.4 257.1L1117.8 255.4L1118.2 253.6L1118.6 251.9L1119 254.8L1119.4 255.2L1119.8 255.9L1120.2 257.4L1120.6 259L1121 262L1121.4 265.4L1121.8 268.8L1122.2 272.1L1122.6 275.5L1123 278.3L1123.4 280.9L1123.8 283.6L1124.2 286.3L1124.6 288.9L1125 291.6L1125.4 294.4L1125.8 297.1L1126.2 299.9L1126.6 302.7L1127 305.4L1127.4 308.2L1127.8 310.8L1128.2 313.2L1128.6 315.6L1129 318L1129.4 320.4L1129.8 322.8L1130.2 325.2L1130.6 327.6L1131 330L1131.4 332.4L1131.8 334.8L1132.2 337.2L1132.6 339.6L1133 342L1133.4 344.4L1133.8 346.8L1134.2 349.2L1134.6 351.6L1135 354.2L1135.4 356.8L1135.8 359.4L1136.2 362L1136.6 364.6L1137 364.4L1137.4 363.9L1137.8 363.8L1138.2 364.9L1138.6 365.2L1139 365.3L1139.4 365.5L1139.8 365.5L1140.2 365.6L1140.6 365.6L1141 366L1141.4 366.4L1141.8 370L1142.2 370.4L1142.6 370.8L1143 370.9L1143.4 370.9L1143.8 371L1144.2 371.1L1144.6 371.1L1145 371.2L1145.4 374.1L1145.8 374.6L1146.2 375.5L1146.6 376.5L1147 377.3L1147.4 378L1147.8 378.3L1148.2 378.4L1148.6 382.1L1149 382.5L1149.4 382.7L1149.8 383L1150.2 383.3L1150.6 383.5L1151 383.8L1151.4 384L1151.8 387.5L1152.2 387.7L1152.6 388L1153 388.4L1153.4 388.8L1153.8 389.2L1154.2 389.6L1154.6 390L1155 393.6L1155.4 394.1L1155.8 394.5L1156.2 394.9L1156.6 395.2L1157 395.4L1157.4 395.7L1157.8 395.9L1158.2 396.1L1158.6 399.5L1159 399.7L1159.4 400L1159.8 400.2L1160.2 400.5L1160.6 400.8L1161 401.3L1161.4 401.9L1161.8 405.3L1162.2 405.8L1162.6 406.3L1163 406.7L1163.4 407L1163.8 407.2L1164.2 407.2L1164.6 407.3L1165 408.4L1165.4 408.5L1165.8 408.6L1166.2 408.6L1166.6 408.6L1167 409L1167.4 409.4L1167.8 409.8L1168.2 413.3L1168.6 413.7L1169 413.7L1169.4 413.7L1169.8 413.8L1170.2 413.8L1170.6 413.8L1171 413.8L1171.4 413.8L1171.8 416.5L1172.2 417L1172.6 417.5L1173 418L1173.4 418.1L1173.8 418.1L1174.2 418.1L1174.6 419L1175 419L1175.4 419L1175.8 419L1176.2 419L1176.6 419L1177 418.6L1177.4 416.8L1177.8 414.9L1178.2 413.1L1178.6 408.5L1179 393.6L1179.4 378.8L1179.8 363.9L1180.2 342.5L1180.6 318.5L1181 297.3L1181.4 285.9L1181.8 274.5L1182.2 263L1182.6 254.4L1183 246.8L1183.4 239.2L1183.8 231.6L1184.2 221.5L1184.6 210.5L1185 199.5L1185.4 188.5L1185.8 181L1186.2 174.7L1186.6 168.5L1187 162.9L1187.4 159.6L1187.8 156.2L1188.2 155.1L1188.6 154.7L1189 154.5L1189.4 154.8L1189.8 155.2L1190.2 156.3L1190.6 159.2L1191 162.2L1191.4 165.2L1191.8 167.4L1192.2 169.4L1192.6 171.4L1193 173.4L1193.4 175.4L1193.8 178.6L1194.2 182.1L1194.6 185.6L1195 189.1L1195.4 191.2L1195.8 193L1196.2 194.8L1196.6 196.5L1197 198.9L1197.4 202.4L1197.8 205.9L1198.2 209.4L1198.6 212.9L1199 216.5L1199.4 220.1L1199.8 223.7L1200.2 227.3L1200.6 230.8L1201 234L1201.4 237.2L1201.8 240.4L1202.2 243.6L1202.6 246.6L1203 249.5L1203.4 252.4L1203.8 255.3L1204.2 258.2L1204.6 260.7L1205 262.5L1205.4 264.3L1205.8 266.1L1206.2 267.9L1206.6 269.7L1207 271.5L1207.4 273.3L1207.8 275.1L1208.2 276.9L1208.6 278.8L1209 280.9L1209.4 283L1209.8 285.1L1210.2 287.2L1210.6 289.3L1211 291.4L1211.4 293.5L1211.8 295.6L1212.2 297.7L1212.6 299.1L1213 299.7L1213.4 300.4L1213.8 301L1214.2 301.6L1214.6 303.3L1215 306.6L1215.4 309.8L1215.8 313.1L1216.2 315.2L1216.6 316.1L1217 316.9L1217.4 317.3L1217.8 318.9L1218.2 319.4L1218.6 320.8L1219 322.8L1219.4 324.8L1219.8 326.8L1220.2 328.8L1220.6 330.3L1221 331.3L1221.4 332.5L1221.8 333.5L1222.2 334.3L1222.6 335L1223 335.7L1223.4 336.5L1223.8 337.2L1224.2 338L1224.6 340.9L1225 341.7L1225.4 342.5L1225.8 343.3L1226.2 344.3L1226.6 345.4L1227 346.7L1227.4 347.8L1227.8 349.4L1228.2 351L1228.6 352.6L1229 354.2L1229.4 355.6L1229.8 356L1230.2 356.2L1230.6 356.3L1231 360L1231.4 360.4L1231.8 360.8L1232.2 361.2L1232.6 361.7L1233 362.1L1233.4 362.5L1233.8 362.9L1234.2 366.5L1234.6 366.9L1235 367.3L1235.4 367.7L1235.8 368.2L1236.2 368.6L1236.6 369L1237 369.4L1237.4 369.8L1237.8 373.4L1238.2 373.8L1238.6 374.2L1239 374.7L1239.4 375.1L1239.8 375.5L1240.2 375.9L1240.6 376.3L1241 379.9L1241.4 380.3L1241.8 380.7L1242.2 381.2L1242.6 381.6L1243 382.1L1243.4 382.3L1243.8 382.4L1244.2 386.2L1244.6 386.6L1245 386.7L1245.4 386.7L1245.8 386.7L1246.2 386.8L1246.6 386.8L1247 386.9L1247.4 386.9L1247.8 386.9L1248.2 387L1248.6 387L1249 387L1249.4 387L1249.8 387.1L1250.2 385.7L1250.6 383.6L1251 381.5L1251.4 377.5L1251.8 364.2L1252.2 350.9L1252.6 337L1253 320.3L1253.4 303.7L1253.8 288.4L1254.2 279.8L1254.6 271.3L1255 262.7L1255.4 251.4L1255.8 238.8L1256.2 226.2L1256.6 213.5L1257 202.1L1257.4 191.1L1257.8 180.1L1258.2 169.1L1258.6 161.4L1259 155.1L1259.4 148.8L1259.8 143.4L1260.2 141.4L1260.6 139.4L1261 138.9L1261.4 138.9L1261.8 138.9L1262.2 138.9L1262.6 139.9L1263 141.9L1263.4 143.7L1263.8 145.4L1264.2 147.6L1264.6 149.9L1265 152.3L1265.4 154.6L1265.8 156.9L1266.2 159.3L1266.6 162.8L1267 166.8L1267.4 170.8L1267.8 174.8L1268.2 177.8L1268.6 180.5L1269 183.2L1269.4 185.8L1269.8 188.5L1270.2 191.2L1270.6 195.2L1271 199.6L1271.4 204L1271.8 208.4L1272.2 212.8L1272.6 216.5L1273 220.1L1273.4 223.7L1273.8 227.3L1274.2 230.9L1274.6 233.4L1275 235.5L1275.4 237.6L1275.8 239.8L1276.2 241.9L1276.6 244L1277 246.2L1277.4 248.1L1277.8 249.8L1278.2 251.5L1278.6 253.1L1279 254.8L1279.4 256.4L1279.8 258.1L1280.2 259.7L1280.6 262L1281 264.4L1281.4 266.8L1281.8 269.2L1282.2 271.6L1282.6 274L1283 276.4L1283.4 278.9L1283.8 281.6L1284.2 284.2L1284.6 286.9L1285 289.6L1285.4 292.2L1285.8 294.9L1286.2 297.6L1286.6 298.4L1287 299L1287.4 299.7L1287.8 300.3L1288.2 300.8L1288.6 302.7L1289 304.7L1289.4 306.7L1289.8 308.7L1290.2 310.7L1290.6 312.7L1291 314.7L1291.4 316.4L1291.8 317.7L1292.2 319.1L1292.6 320.4L1293 321.7L1293.4 323L1293.8 324.5L1294.2 325.9L1294.6 326.9L1295 327.8L1295.4 328.7L1295.8 329.4L1296.2 330.3L1296.6 331.1L1297 333.8L1297.4 334.7L1297.8 335.5L1298.2 336.3L1298.6 337.2L1299 337.9L1299.4 338.6L1299.8 339.2L1300.2 342.6L1300.6 343.1L1301 343.7L1301.4 344.1L1301.8 344.5L1302.2 345L1302.6 345.4L1303 346.5L1303.4 347.9L1303.8 349.5L1304.2 350.5L1304.6 352.5L1305 353.8L1305.4 353.6L1305.8 353.5L1306.2 353.5L1306.6 354.8L1307 354.8L1307.4 354.8L1307.8 354.8L1308.2 354L1308.6 352.8L1309 351.2L1309.4 346.4L1309.8 341.6L1310.2 336.1L1310.6 330.1L1311 324.1L1311.4 318.1L1311.8 312.6L1312.2 307.5L1312.6 302.3L1313 297.2L1313.4 292L1313.8 286.9L1314.2 281.7L1314.6 279.1L1315 277.9L1315.4 276.6L1315.8 275.4L1316.2 274.7L1316.6 274.4L1317 274L1317.4 273.7L1317.8 273.7L1318.2 273.8L1318.6 273.8L1319 274.1L1319.4 274.8L1319.8 277.2L1320.2 279.6L1320.6 282L1321 284.3L1321.4 286.5L1321.8 288.6L1322.2 290.7L1322.6 292.9L1323 295L1323.4 297.1L1323.8 299.3L1324.2 301.4L1324.6 303.5L1325 305.7L1325.4 307.8L1325.8 309.9L1326.2 312.1L1326.6 314.2L1327 316.3L1327.4 318.3L1327.8 320.3L1328.2 322.3L1328.6 324.3L1329 326.6L1329.4 329.8L1329.8 333L1330.2 336.2L1330.6 339.4L1331 342.5L1331.4 345.5L1331.8 348.4L1332.2 351.3L1332.6 354.3L1333 357.2L1333.4 360.1L1333.8 363.1L1334.2 363.9L1334.6 364.2L1335 364.2L1335.4 364.3L1335.8 364.4L1336.2 364.5L1336.6 366.8L1337 367L1337.4 367.4L1337.8 367.9L1338.2 368.4L1338.6 369L1339 369.4L1339.4 369.6L1339.8 373.3L1340.2 373.7L1340.6 373.9L1341 374.2L1341.4 374.5L1341.8 374.7L1342.2 374.8L1342.6 374.9L1343 374.9L1343.4 376.3L1343.8 376.4L1344.2 376.5L1344.6 376.6L1345 376.7L1345.4 376.9L1345.8 377.2L1346.2 377.5L1346.6 380.5L1347 380.8L1347.4 381.1L1347.8 381.4L1348.2 382L1348.6 382.7L1349 383.5L1349.4 384.3L1349.8 387.3L1350.2 388L1350.6 388.8L1351 389.4L1351.4 390L1351.8 390.4L1352.2 390.6L1352.6 390.7L1353 394.4L1353.4 394.7L1353.8 394.9L1354.2 395.2L1354.6 395.4L1355 395.6L1355.4 395.9L1355.8 396.2L1356.2 396.6L1356.6 400.1L1357 400.4L1357.4 400.8L1357.8 401.3L1358.2 401.7L1358.6 402L1359 402.2L1359.4 402.5L1359.8 406.2L1360.2 406.3L1360.6 406.5L1361 406.7L1361.4 406.8L1361.8 407L1362.2 407.1L1362.6 407.3L1363 410.5L1363.4 410.9L1363.8 411.5L1364.2 411.9L1364.6 412.3L1365 412.5L1365.4 412.5L1365.8 412.6L1366.2 413.6L1366.6 413.6L1367 413.6L1367.4 413.6L1367.8 413.6L1368.2 413.6L1368.6 413.6L1369 413.6L1369.4 413.6L1369.8 413.6L1370.2 413.6L1370.6 413.6L1371 413.6L1371.4 413.6L1371.8 413.6L1372.2 413.6L1372.6 413.6L1373 413.6L1373.4 413.6L1373.8 413.6L1374.2 411.1L1374.6 408.6L1375 406.1L1375.4 403.2L1375.8 388.6L1376.2 373.9L1376.6 359L1377 339L1377.4 319L1377.8 299.4L1378.2 288L1378.6 276.5L1379 265.1L1379.4 254.4L1379.8 244.3L1380.2 234.1L1380.6 224.9L1381 216.3L1381.4 207.7L1381.8 199.3L1382.2 193.3L1382.6 187.3L1383 181.3L1383.4 175.6L1383.8 173.6L1384.2 171.6L1384.6 169.6L1385 168.2L1385.4 167.2L1385.8 170.6L1386.2 170.5L1386.6 170.4L1387 172.1L1387.4 174.1L1387.8 176L1388.2 178L1388.6 180L1389 182L1389.4 184L1389.8 186.1L1390.2 188.5L1390.6 191L1391 193.4L1391.4 195.9L1391.8 198.4L1392.2 200.8L1392.6 203.9L1393 207.3L1393.4 210.8L1393.8 214.1L1394.2 217.3L1394.6 220.5L1395 223.7L1395.4 226.9L1395.8 230.2L1396.2 233.8L1396.6 237.4L1397 241L1397.4 244.6L1397.8 248.4L1398.2 253.4L1398.6 258.4L1399 260.9L1399.4 262.2L1399.8 263.6L1400.2 264.9L1400.6 266.2L1401 267.6L1401.4 268.9L1401.8 270.4L1402.2 272.4L1402.6 274.4L1403 276.4L1403.4 278.4L1403.8 280.4L1404.2 282.4L1404.6 284.4L1405 286.4L1405.4 288.4L1405.8 290.4L1406.2 292.8L1406.6 295.2L1407 297.6L1407.4 300L1407.8 302.4L1408.2 304.8L1408.6 307.2L1409 309.6L1409.4 312L1409.8 314.3L1410.2 316.3L1410.6 318.3L1411 320.3L1411.4 322.3L1411.8 324.3L1412.2 326.1L1412.6 327L1413 328.1L1413.4 328.9L1413.8 329.6L1414.2 330.4L1414.6 331.2L1415 332.4L1415.4 333.9L1415.8 335.6L1416.2 336.9L1416.6 338.2L1417 339.5L1417.4 340.9L1417.8 342.3L1418.2 343.9L1418.6 345.5L1419 347.1L1419.4 348.7L1419.8 350.3L1420.2 351.9L1420.6 353.5L1421 354.7L1421.4 355.9L1421.8 357L1422.2 357.9L1422.6 359.7L1423 360.8L1423.4 362L1423.8 363L1424.2 364.1L1424.6 365.1L1425 366.1L1425.4 367L1425.8 369.3L1426.2 370.3L1426.6 371.2L1427 372.2L1427.4 373.1L1427.8 374L1428.2 374.9L1428.6 375.6L1429 378.5L1429.4 379.4L1429.8 380.2L1430.2 380.7L1430.6 381.1L1431 381.5L1431.4 381.9L1431.8 382.3L1432.2 385.9L1432.6 386.4L1433 386.8L1433.4 387.1L1433.8 387.5L1434.2 387.7L1434.6 387.9L1435 388.2L1435.4 388.5L1435.8 392L1436.2 392.2L1436.6 392.5L1437 392.7L1437.4 393L1437.8 393.2L1438.2 393.5L1438.6 393.7L1439 397.3L1439.4 397.6L1439.8 397.9L1440.2 398.2L1440.6 398.5L1441 398.7L1441.4 399L1441.8 399.3L1442.2 402.4L1442.6 402.7L1443 402.8L1443.4 402.8L1443.8 402.8L1444.2 402.9L1444.6 402.9L1445 402.9L1445.4 404.8L1445.8 405L1446.2 405.4L1446.6 405.8L1447 406.3L1447.4 406.7L1447.8 406.9L1448.2 406.9L1448.6 406.9L1449 408.6L1449.4 408.6L1449.8 408.6L1450.2 408.6L1450.6 408.6L1451 406.1L1451.4 403.5L1451.8 400.9L1452.2 393.9L1452.6 382.5L1453 371L1453.4 359.5L1453.8 339.5L1454.2 319.5L1454.6 299.6L1455 286.3L1455.4 273L1455.8 259.6L1456.2 246.2L1456.6 232.8L1457 219.4L1457.4 205.9L1457.8 194.4L1458.2 184.4L1458.6 174.4L1459 164.4L1459.4 154.4L1459.8 146.1L1460.2 139.2L1460.6 132.4L1461 125.8L1461.4 124.5L1461.8 123.1L1462.2 122.5L1462.6 122.5L1463 122.5L1463.4 122.5L1463.8 122.5L1464.2 123.4L1464.6 125.4L1465 127.3L1465.4 129.1L1465.8 131.2L1466.2 133.3L1466.6 135.5L1467 137.6L1467.4 139.8L1467.8 141.9L1468.2 144.3L1468.6 148.9L1469 153.5L1469.4 158.1L1469.8 161.5L1470.2 164.1L1470.6 166.8L1471 169.5L1471.4 172.1L1471.8 174.8L1472.2 177.8L1472.6 181L1473 184.2L1473.4 187.4L1473.8 190.6L1474.2 193.5L1474.6 196.3L1475 199.1L1475.4 201.8L1475.8 204.6L1476.2 207.4L1476.6 210.4L1477 215L1477.4 219.6L1477.8 224.1L1478.2 227L1478.6 229L1479 231L1479.4 233L1479.8 235L1480.2 237L1480.6 239L1481 241L1481.4 243L1481.8 246.4L1482.2 250.5L1482.6 254.6L1483 258.8L1483.4 261.2L1483.8 262.8L1484.2 264.5L1484.6 266.2L1485 267.8L1485.4 269.5L1485.8 271.3L1486.2 273.1L1486.6 274.9L1487 276.7L1487.4 278.5L1487.8 280.3L1488.2 282.1L1488.6 283.9L1489 285.7L1489.4 287.5L1489.8 288.5L1490.2 289L1490.6 289.3L1491 289.5L1491.4 290.1L1491.8 293.3L1492.2 293.7L1492.6 294.4L1493 295.5L1493.4 296.8L1493.8 298.3L1494.2 299.6L1494.6 300.9L1495 302.4L1495.4 303.7L1495.8 304.8L1496.2 305.7L1496.6 306.6L1497 307.4L1497.4 308.2L1497.8 309.1L1498.2 311.8L1498.6 312.6L1499 313.5L1499.4 314.3L1499.8 315.1L1500.2 316L1500.6 316.8L1501 317.6L1501.4 318.5L1501.8 321.2L1502.2 322L1502.6 322.9L1503 323.7L1503.4 324.6L1503.8 325.4L1504.2 326.3L1504.6 327.1L1505 329.9L1505.4 330.9L1505.8 331.6L1506.2 332.1L1506.6 332.4L1507 332.4L1507.4 332.4L1507.8 333.1L1508.2 333L1508.6 333L1509 333L1509.4 332.9L1509.8 332.9L1510.2 332.8L1510.6 332.1L1511 330.1L1511.4 328.1L1511.8 326.1L1512.2 321.5L1512.6 316.5L1513 311.5L1513.4 306.5L1513.8 301.5L1514.2 296.5L1514.6 291.5L1515 286.5L1515.4 284L1515.8 281.7L1516.2 279.5L1516.6 277.3L1517 275.7L1517.4 275.1L1517.8 274.5L1518.2 273.9L1518.6 273.7L1519 273.9L1519.4 274L1519.8 274.1L1520.2 275.1L1520.6 276.6L1521 278.5L1521.4 279.9L1521.8 281.4L1522.2 283L1522.6 284.6L1523 286.2L1523.4 287.8L1523.8 290.2L1524.2 292.6L1524.6 295L1525 297.4L1525.4 299.8L1525.8 301.8L1526.2 303.8L1526.6 305.8L1527 307.8L1527.4 309.8L1527.8 311.8L1528.2 314.8L1528.6 317.8L1529 320.8L1529.4 323.8L1529.8 326.2L1530.2 328.6L1530.6 331L1531 333.4L1531.4 335.8L1531.8 338.6L1532.2 341.5L1532.6 344.3L1533 347.1L1533.4 350L1533.8 352.8L1534.2 353.7L1534.6 354.6L1535 355.7L1535.4 356.7L1535.8 357.3L1536.2 357.9L1536.6 358.5L1537 359.1L1537.4 359.6L1537.8 363.2L1538.2 363.9L1538.6 364.3L1539 364.7L1539.4 364.7L1539.8 364.8L1540.2 364.9L1540.6 364.9L1541 365L1541.4 366.3L1541.8 366.4L1542.2 366.8L1542.6 367.2L1543 367.8L1543.4 368.4L1543.8 368.8L1544.2 369.2L1544.6 372.9L1545 373.3L1545.4 373.6L1545.8 373.9L1546.2 374.1L1546.6 374.4L1547 374.8L1547.4 375.1L1547.8 378.7L1548.2 379.1L1548.6 379.4L1549 379.8L1549.4 380.2L1549.8 380.5L1550.2 380.8L1550.6 381L1551 384.5L1551.4 384.7L1551.8 384.9L1552.2 385.1L1552.6 385.3L1553 385.6L1553.4 385.9L1553.8 386.6L1554.2 386.9L1554.6 390.9L1555 391.3L1555.4 391.7L1555.8 391.7L1556.2 391.7L1556.6 391.8L1557 391.8L1557.4 391.9L1557.8 391.9L1558.2 392L1558.6 392L1559 392L1559.4 391.6L1559.8 388.5L1560.2 385.4L1560.6 382.3L1561 377.7L1561.4 366.2L1561.8 354.8L1562.2 343.4L1562.6 332L1563 320.5L1563.4 309.1L1563.8 298.7L1564.2 292.7L1564.6 286.7L1565 280.7L1565.4 275.1L1565.8 271.1L1566.2 267.1L1566.6 263.1L1567 258.9L1567.4 253.7L1567.8 249.4L1568.2 248.4L1568.6 247.4L1569 246.7L1569.4 246.9L1569.8 247.2L1570.2 247.3L1570.6 247.6L1571 249.5L1571.4 252L1571.8 254.5L1572.2 257L1572.6 258.3L1573 259.3L1573.4 260.5L1573.8 262.5L1574.2 264.5L1574.6 266.5L1575 268.5L1575.4 270.5L1575.8 273L1576.2 277L1576.6 281L1577 285L1577.4 288.5L1577.8 290.7L1578.2 292.8L1578.6 294.9L1579 297.1L1579.4 299.2L1579.8 301.3L1580.2 303.5L1580.6 306.4L1581 309.6L1581.4 312.8L1581.8 316L1582.2 319.2L1582.6 321.8L1583 324.2L1583.4 326.6L1583.8 329L1584.2 331.4L1584.6 333.8L1585 336.2L1585.4 338.1L1585.8 338.9L1586.2 339.7L1586.6 340.5L1587 341.3L1587.4 342.6L1587.8 345L1588.2 347.4L1588.6 349.8L1589 352.2L1589.4 354.1L1589.8 354.9L1590.2 354.6L1590.6 357.3L1591 358L1591.4 358.4L1591.8 358.8L1592.2 359.1L1592.6 359.4L1593 359.6L1593.4 359.8L1593.8 360.1L1594.2 363.4L1594.6 363.7L1595 363.9L1595.4 364.2L1595.8 364.4L1596.2 364.7L1596.6 365.1L1597 365.5L1597.4 369L1597.8 369.4L1598.2 369.8L1598.6 370.2L1599 370.7L1599.4 371.2L1599.8 371.7L1600.2 372.3L1600.6 375.7L1601 376.3L1601.4 376.8L1601.8 377.4L1602.2 377.9L1602.6 378.5L1603 379L1603.2 379.4" stroke-width="1.6"/>
<path d="M114 1090.6L114.4 1090.6L114.8 1090.7L115.2 1090.8L115.6 1091L116 1091.1L116.4 1091.1L116.8 1091.2L117.2 1091.3L117.6 1091.5L118 1096.8L118.4 1098.1L118.8 1098.2L119.2 1098.3L119.6 1098.5L120 1098.8L120.4 1099L120.8 1098.8L121.2 1099.9L121.6 1100.1L122 1100.2L122.4 1100.7L122.8 1101.2L123.2 1103.4L123.6 1104.5L124 1105.5L124.4 1102.9L124.8 1100.4L125.2 1097.9L125.6 1095.4L126 1093.3L126.4 1091.2L126.8 1089.1L127.2 1081.6L127.6 1070.3L128 1059L128.4 1046.4L128.8 1019.8L129.2 993.2L129.6 966.7L130 940.1L130.4 913.5L130.8 888.4L131.2 876.4L131.6 864.3L132 852.2L132.4 840.1L132.8 828L133.2 817.5L133.6 808.1L134 798.6L134.4 789.1L134.8 779.7L135.2 773.6L135.6 769.6L136 765.6L136.4 761.9L136.8 760.2L137.2 768.5L137.6 767.6L138 768.9L138.4 772.2L138.8 774.7L139.2 777.1L139.6 779.6L140 782L140.4 784.5L140.8 786.9L141.2 789.4L141.6 791.8L142 794.3L142.4 796.8L142.8 799.2L143.2 801.7L143.6 805.1L144 813.1L144.4 820.1L144.8 822.5L145.2 824.9L145.6 827.3L146 829.8L146.4 832.2L146.8 837.4L147.2 843.8L147.6 849.8L148 854L148.4 858.3L148.8 862.5L149.2 866.8L149.6 870.9L150 874.6L150.4 878.2L150.8 881.9L151.2 885.5L151.6 889.2L152 893L152.4 897.6L152.8 902.2L153.2 906.7L153.6 908.5L154 909.3L154.4 910.1L154.8 910.9L155.2 911.6L155.6 914.2L156 917.2L156.4 920.3L156.8 923.4L157.2 926.4L157.6 929.5L158 932.6L158.4 935.7L158.8 938.9L159.2 942L159.6 945.1L160 948.3L160.4 951.4L160.8 954.5L161.2 957.6L161.6 959.3L162 960.5L162.4 961.4L162.8 962L163.2 962.7L163.6 963.7L164 967.7L164.4 968.7L164.8 969.7L165.2 970.8L165.6 972.2L166 973.7L166.4 975.1L166.8 976.5L167.2 979.9L167.6 983.6L168 986.5L168.4 987.7L168.8 988.8L169.2 989.5L169.6 989.8L170 990.5L170.4 991.2L170.8 995.8L171.2 996.5L171.6 997.2L172 997.9L172.4 998.5L172.8 999.1L173.2 999.8L173.6 1000.6L174 1004.9L174.4 1005.7L174.8 1006.7L175.2 1007.7L175.6 1008.7L176 1009.4L176.4 1009.8L176.8 1010.1L177.2 1015.1L177.6 1015.3L178 1015.5L178.4 1015.7L178.8 1015.9L179.2 1016.1L179.6 1016.3L180 1016.7L180.4 1021.6L180.8 1022.3L181.2 1022.9L181.6 1023.4L182 1023.7L182.4 1023.6L182.8 1023.8L183.2 1024L183.6 1023.9L184 1023.8L184.4 1023.8L184.8 1023.8L185.2 1023.8L185.6 1023.8L186 1023.9L186.4 1023.9L186.8 1023.9L187.2 1024L187.6 1019.2L188 1014.3L188.4 1009.3L188.8 997.2L189.2 984.8L189.6 972.4L190 954.9L190.4 937.1L190.8 919.4L191.2 908.6L191.6 898L192 888.3L192.4 879.6L192.8 870.9L193.2 862.1L193.6 854L194 846.5L194.4 838.9L194.8 831.4L195.2 827.8L195.6 824.2L196 820.7L196.4 818.7L196.8 818.4L197.2 820.6L197.6 821.3L198 822.2L198.4 824.3L198.8 826.4L199.2 829L199.6 831.6L200 834.2L200.4 836.9L200.8 839.5L201.2 842.2L201.6 847.5L202 852.8L202.4 858.1L202.8 863.3L203.2 866.4L203.6 869.6L204 872.7L204.4 875.9L204.8 879.4L205.2 888.6L205.6 895.2L206 899.7L206.4 904.2L206.8 908.8L207.2 913.5L207.6 918.3L208 923L208.4 927.8L208.8 932.4L209.2 935.2L209.6 938L210 940.8L210.4 943.6L210.8 946.3L211.2 949.1L211.6 951.9L212 954.8L212.4 957.7L212.8 960.7L213.2 963.6L213.6 966.5L214 969.5L214.4 972.4L214.8 975.3L215.2 978L215.6 979.2L216 979.8L216.4 979.4L216.8 983.8L217.2 984.4L217.6 985.1L218 985.8L218.4 986.5L218.8 987.2L219.2 987.9L219.6 988.7L220 993L220.4 993.8L220.8 994.6L221.2 995.3L221.6 995.9L222 996.4L222.4 996.7L222.8 997L223.2 997.2L223.6 1002.2L224 1002.5L224.4 1002.9L224.8 1003.3L225.2 1003.8L225.6 1004.4L226 1005.3L226.4 1006.5L226.8 1010.4L227.2 1011.3L227.6 1012.4L228 1013.6L228.4 1014.7L228.8 1015.6L229.2 1016.5L229.6 1017.2L230 1021.5L230.4 1022.2L230.8 1022.8L231.2 1023.4L231.6 1023.9L232 1024.4L232.4 1024.9L232.8 1025.6L233.2 1030.1L233.6 1030.6L234 1031.3L234.4 1032L234.8 1032.6L235.2 1033L235.6 1033.4L236 1033.5L236.4 1033.4L236.8 1035.9L237.2 1035.8L237.6 1035.7L238 1035.6L238.4 1035.6L238.8 1035.6L239.2 1035.6L239.6 1033.7L240 1031.3L240.4 1028.8L240.8 1023.8L241.2 1012.1L241.6 1000.4L242 988.7L242.4 977L242.8 965.6L243.2 955L243.6 944.4L244 933.7L244.4 923.1L244.8 914.6L245.2 911L245.6 907.3L246 903.6L246.4 899.9L246.8 896.6L247.2 893.8L247.6 891L248 888.3L248.4 885.9L248.8 883.6L249.2 881.4L249.6 879.1L250 883L250.4 883.5L250.8 884.5L251.2 886.6L251.6 888.7L252 892.8L252.4 897.4L252.8 901.9L253.2 906.4L253.6 910.9L254 914.7L254.4 918.3L254.8 921.9L255.2 925.4L255.6 929L256 932.6L256.4 936.4L256.8 940.1L257.2 943.8L257.6 947.5L258 951.3L258.4 955L258.8 958.5L259.2 961.8L259.6 965L260 968.3L260.4 971.5L260.8 974.7L261.2 978L261.6 981.2L262 984.5L262.4 987.7L262.8 990.9L263.2 994.2L263.6 997.4L264 1000.6L264.4 1003.9L264.8 1007.1L265.2 1010.4L265.6 1013.6L266 1017.1L266.4 1020.6L266.8 1024.1L267.2 1027.6L267.6 1031.1L268 1030.9L268.4 1030.2L268.8 1030.1L269.2 1031.7L269.6 1032.1L270 1032.3L270.4 1032.5L270.8 1032.6L271.2 1032.6L271.6 1032.7L272 1033.3L272.4 1033.8L272.8 1038.7L273.2 1039.3L273.6 1039.8L274 1040L274.4 1040.1L274.8 1040.2L275.2 1040.3L275.6 1040.4L276 1040.6L276.4 1044.5L276.8 1045.2L277.2 1046.3L277.6 1047.7L278 1048.9L278.4 1049.8L278.8 1050.3L279.2 1050.3L279.6 1055.4L280 1055.9L280.4 1056.3L280.8 1056.7L281.2 1057L281.6 1057.4L282 1057.8L282.4 1058.2L282.8 1062.9L283.2 1063.2L283.6 1063.6L284 1064.1L284.4 1064.6L284.8 1065.2L285.2 1065.9L285.6 1066.5L286 1071.3L286.4 1071.9L286.8 1072.5L287.2 1073L287.6 1073.5L288 1073.8L288.4 1074.2L288.8 1074.5L289.2 1074.9L289.6 1079.4L290 1079.7L290.4 1080.1L290.8 1080.4L291.2 1080.8L291.6 1081.3L292 1082L292.4 1082.8L292.8 1087.4L293.2 1088.1L293.6 1088.8L294 1089.3L294.4 1089.8L294.8 1090.1L295.2 1090.1L295.6 1090.2L296 1091.8L296.4 1092L296.8 1092L297.2 1092.1L297.6 1092.2L298 1092.8L298.4 1093.3L298.8 1093.9L299.2 1098.6L299.6 1099.1L300 1099.2L300.4 1099.2L300.8 1099.3L301.2 1099.4L301.6 1099.4L302 1099.4L302.4 1099.5L302.8 1103L303.2 1103.7L303.6 1104.4L304 1105.1L304.4 1105.4L304.8 1105.4L305.2 1105.4L305.6 1106.7L306 1106.7L306.4 1106.9L306.8 1107.2L307.2 1107.5L307.6 1107.8L308 1107.6L308.4 1105.4L308.8 1103.3L309.2 1101.1L309.6 1095.3L310 1075.7L310.4 1056.2L310.8 1036.6L311.2 1008.3L311.6 976.5L312 948.5L312.4 933.5L312.8 918.5L313.2 903.6L313.6 892.4L314 882.5L314.4 872.6L314.8 862.8L315.2 849.5L315.6 835.1L316 820.7L316.4 806.3L316.8 796.7L317.2 788.6L317.6 780.5L318 773.4L318.4 769.2L318.8 765.1L319.2 763.9L319.6 763.7L320 763.6L320.4 763.9L320.8 764.5L321.2 766L321.6 770L322 774L322.4 778L322.8 780.9L323.2 783.6L323.6 786.3L324 789L324.4 791.7L324.8 796L325.2 800.7L325.6 805.4L326 810.1L326.4 812.9L326.8 815.3L327.2 817.7L327.6 820.1L328 823.2L328.4 827.9L328.8 832.6L329.2 837.3L329.6 842L330 846.9L330.4 851.7L330.8 856.5L331.2 861.4L331.6 866L332 870.3L332.4 874.6L332.8 878.9L333.2 883.2L333.6 887.3L334 891.2L334.4 895.1L334.8 898.9L335.2 902.8L335.6 906.2L336 908.6L336.4 911L336.8 913.4L337.2 915.8L337.6 918.3L338 920.7L338.4 923.1L338.8 925.5L339.2 928L339.6 930.5L340 933.4L340.4 936.2L340.8 939L341.2 941.8L341.6 944.7L342 947.5L342.4 950.3L342.8 953.1L343.2 956L343.6 957.9L344 958.6L344.4 959.6L344.8 960.4L345.2 961.2L345.6 963.6L346 967.9L346.4 972.3L346.8 976.7L347.2 979.6L347.6 980.7L348 981.8L348.4 982.4L348.8 984.5L349.2 985.2L349.6 987.1L350 989.8L350.4 992.5L350.8 995.2L351.2 997.8L351.6 999.9L352 1001.3L352.4 1002.8L352.8 1004.2L353.2 1005.3L353.6 1006.3L354 1007.2L354.4 1008.3L354.8 1009.3L355.2 1010.4L355.6 1014.2L356 1015.3L356.4 1016.4L356.8 1017.5L357.2 1018.9L357.6 1020.4L358 1022.1L358.4 1023.6L358.8 1025.7L359.2 1027.9L359.6 1030.1L360 1032.2L360.4 1034.1L360.8 1034.6L361.2 1034.9L361.6 1035.1L362 1040L362.4 1040.6L362.8 1041.2L363.2 1041.8L363.6 1042.3L364 1042.9L364.4 1043.5L364.8 1044.1L365.2 1048.9L365.6 1049.4L366 1050L366.4 1050.6L366.8 1051.1L367.2 1051.7L367.6 1052.3L368 1052.9L368.4 1053.4L368.8 1058.2L369.2 1058.8L369.6 1059.4L370 1060L370.4 1060.5L370.8 1061.1L371.2 1061.7L371.6 1062.3L372 1067.1L372.4 1067.6L372.8 1068.2L373.2 1068.8L373.6 1069.4L374 1070L374.4 1070.4L374.8 1070.5L375.2 1075.7L375.6 1076.1L376 1076.3L376.4 1076.4L376.8 1076.4L377.2 1076.5L377.6 1076.6L378 1076.6L378.4 1076.8L378.8 1077L379.2 1077.3L379.6 1077.5L380 1077.7L380.4 1078L380.8 1078.2L381.2 1076.6L381.6 1073.9L382 1071.3L382.4 1066.3L382.8 1048.6L383.2 1031L383.6 1012.6L384 990.5L384.4 968.5L384.8 948.3L385.2 937L385.6 925.7L386 914.5L386.4 899.5L386.8 882.9L387.2 866.2L387.6 849.6L388 834.4L388.4 819.9L388.8 805.4L389.2 790.9L389.6 780.8L390 772.6L390.4 764.4L390.8 757.4L391.2 754.9L391.6 752.4L392 751.7L392.4 751.6L392.8 751.5L393.2 751.3L393.6 752.6L394 755.1L394.4 757.3L394.8 759.6L395.2 762.4L395.6 765.3L396 768.3L396.4 771.3L396.8 774.3L397.2 777.3L397.6 782L398 787.2L398.4 792.4L398.8 797.6L399.2 801.5L399.6 804.9L400 808.4L400.4 811.8L400.8 815.3L401.2 818.7L401.6 823.9L402 829.7L402.4 835.4L402.8 841.2L403.2 847L403.6 851.9L404 856.6L404.4 861.2L404.8 865.9L405.2 870.6L405.6 873.7L406 876.4L406.4 879.2L406.8 881.9L407.2 884.6L407.6 887.3L408 890.1L408.4 892.6L408.8 894.7L409.2 896.8L409.6 898.9L410 900.9L410.4 903L410.8 905.1L411.2 907.2L411.6 910.1L412 913.2L412.4 916.3L412.8 919.4L413.2 922.4L413.6 925.5L414 928.6L414.4 931.8L414.8 935.3L415.2 938.7L415.6 942.1L416 945.6L416.4 949L416.8 952.4L417.2 955.9L417.6 956.9L418 957.6L418.4 958.3L418.8 959L419.2 959.6L419.6 961.9L420 964.5L420.4 967L420.8 969.6L421.2 972.1L421.6 974.7L422 977.2L422.4 979.4L422.8 981.1L423.2 982.7L423.6 984.4L424 986L424.4 987.6L424.8 989.5L425.2 991.1L425.6 992.4L426 993.5L426.4 994.5L426.8 995.4L427.2 996.4L427.6 997.4L428 1000.9L428.4 1001.9L428.8 1002.9L429.2 1003.9L429.6 1004.9L430 1005.8L430.4 1006.6L430.8 1007.3L431.2 1011.6L431.6 1012.2L432 1012.8L432.4 1013.3L432.8 1013.7L433.2 1014.1L433.6 1014.6L434 1016L434.4 1017.8L434.8 1019.8L435.2 1020.9L435.6 1023.5L436 1025.1L436.4 1024.7L436.8 1024.5L437.2 1024.3L437.6 1025.9L438 1025.8L438.4 1025.7L438.8 1025.7L439.2 1024.6L439.6 1023L440 1020.7L440.4 1014.3L440.8 1007.8L441.2 1000.3L441.6 992.2L442 984.1L442.4 976.1L442.8 968.7L443.2 961.8L443.6 954.8L444 947.9L444.4 941L444.8 934L445.2 927.1L445.6 923.5L446 921.8L446.4 920.1L446.8 918.3L447.2 917.4L447.6 916.9L448 916.4L448.4 915.8L448.8 915.8L449.2 915.8L449.6 915.9L450 916.1L450.4 917L450.8 920.2L451.2 923.3L451.6 926.5L452 929.5L452.4 932.3L452.8 935.1L453.2 937.9L453.6 940.7L454 943.5L454.4 946.3L454.8 949.1L455.2 951.9L455.6 954.6L456 957.4L456.4 960.2L456.8 963L457.2 965.8L457.6 968.6L458 971.3L458.4 974L458.8 976.6L459.2 979.2L459.6 981.8L460 984.8L460.4 989L460.8 993.2L461.2 997.4L461.6 1001.7L462 1005.8L462.4 1009.6L462.8 1013.5L463.2 1017.4L463.6 1021.2L464 1025.1L464.4 1028.9L464.8 1032.8L465.2 1033.9L465.6 1034.1L466 1034.2L466.4 1034.2L466.8 1034.3L467.2 1034.4L467.6 1037.4L468 1037.6L468.4 1038L468.8 1038.6L469.2 1039.3L469.6 1040L470 1040.5L470.4 1040.7L470.8 1045.6L471.2 1046L471.6 1046.3L472 1046.6L472.4 1046.9L472.8 1047.2L473.2 1047.2L473.6 1047.2L474 1047.3L474.4 1049.1L474.8 1049.1L475.2 1049.1L475.6 1049.2L476 1049.3L476.4 1049.6L476.8 1049.8L477.2 1050.1L477.6 1054.2L478 1054.4L478.4 1054.8L478.8 1055.2L479.2 1055.9L479.6 1056.7L480 1057.7L480.4 1058.8L480.8 1062.7L481.2 1063.6L481.6 1064.5L482 1065.4L482.4 1066L482.8 1066.6L483.2 1066.8L483.6 1066.9L484 1071.8L484.4 1072L484.8 1072.3L485.2 1072.5L485.6 1072.8L486 1073.1L486.4 1073.3L486.8 1073.6L487.2 1074.1L487.6 1078.8L488 1079.2L488.4 1079.6L488.8 1080.1L489.2 1080.6L489.6 1081L490 1081.2L490.4 1081.5L490.8 1086.4L491.2 1086.6L491.6 1086.7L492 1086.9L492.4 1087L492.8 1087.2L493.2 1087.3L493.6 1087.5L494 1091.7L494.4 1092.2L494.8 1092.8L495.2 1093.3L495.6 1093.8L496 1094L496.4 1094.2L496.8 1094.5L497.2 1096.1L497.6 1096.3L498 1096.5L498.4 1096.6L498.8 1096.8L499.2 1097L499.6 1097.2L500 1097.4L500.4 1097.5L500.8 1097.7L501.2 1097.9L501.6 1098.1L502 1098.3L502.4 1098.5L502.8 1098.6L503.2 1098.8L503.6 1099L504 1099.2L504.4 1099.4L504.8 1099.5L505.2 1096.5L505.6 1093.4L506 1090.4L506.4 1086.8L506.8 1067.5L507.2 1048.2L507.6 1028.6L508 1002.2L508.4 975.7L508.8 949.8L509.2 934.8L509.6 919.8L510 904.8L510.4 890.8L510.8 877.5L511.2 864.2L511.6 852.1L512 841L512.4 829.8L512.8 818.9L513.2 811.1L513.6 803.4L514 795.7L514.4 788.3L514.8 786L515.2 783.6L515.6 781.2L516 779.5L516.4 778.1L516.8 782.7L517.2 782.7L517.6 782.5L518 784.9L518.4 787.5L518.8 790.1L519.2 792.9L519.6 795.6L520 798.3L520.4 801L520.8 803.8L521.2 807.1L521.6 810.4L522 813.8L522.4 817.1L522.8 820.4L523.2 823.7L523.6 827.9L524 832.5L524.4 837.1L524.8 841.7L525.2 846L525.6 850.3L526 854.6L526.4 859L526.8 863.4L527.2 868.2L527.6 873.1L528 877.9L528.4 882.8L528.8 887.9L529.2 894.6L529.6 901.3L530 904.7L530.4 906.5L530.8 908.3L531.2 910.1L531.6 912L532 913.8L532.4 915.6L532.8 917.6L533.2 920.3L533.6 923L534 925.7L534.4 928.4L534.8 931.1L535.2 933.8L535.6 936.6L536 939.3L536.4 942L536.8 944.8L537.2 948L537.6 951.3L538 954.5L538.4 957.8L538.8 961L539.2 964.3L539.6 967.5L540 970.8L540.4 974L540.8 977.1L541.2 979.8L541.6 982.5L542 985.3L542.4 988L542.8 990.7L543.2 993L543.6 994.3L544 995.8L544.4 996.9L544.8 997.9L545.2 998.9L545.6 1000.1L546 1001.8L546.4 1003.7L546.8 1006L547.2 1007.8L547.6 1009.6L548 1011.4L548.4 1013.2L548.8 1015.2L549.2 1017.3L549.6 1019.5L550 1021.7L550.4 1023.9L550.8 1026L551.2 1028.2L551.6 1030.4L552 1032.1L552.4 1033.8L552.8 1035.3L553.2 1036.4L553.6 1039L554 1040.5L554.4 1042L554.8 1043.5L555.2 1044.9L555.6 1046.4L556 1047.7L556.4 1048.9L556.8 1052.1L557.2 1053.4L557.6 1054.7L558 1056L558.4 1057.3L558.8 1058.6L559.2 1059.8L559.6 1060.8L560 1064.7L560.4 1065.9L560.8 1066.9L561.2 1067.7L561.6 1068.3L562 1068.9L562.4 1069.4L562.8 1070L563.2 1074.9L563.6 1075.5L564 1076.1L564.4 1076.6L564.8 1077.1L565.2 1077.4L565.6 1077.8L566 1078.2L566.4 1078.5L566.8 1083.3L567.2 1083.6L567.6 1084L568 1084.4L568.4 1084.8L568.8 1085.1L569.2 1085.5L569.6 1085.9L570 1090.7L570.4 1091.1L570.8 1091.5L571.2 1092L571.6 1092.4L572 1092.8L572.4 1093.2L572.8 1093.6L573.2 1097.8L573.6 1098.3L574 1098.4L574.4 1098.4L574.8 1098.5L575.2 1098.7L575.6 1098.7L576 1098.7L576.4 1101.2L576.8 1101.6L577.2 1102.2L577.6 1102.8L578 1103.4L578.4 1104L578.8 1104.4L579.2 1104.4L579.6 1104.4L580 1106.8L580.4 1106.8L580.8 1107.1L581.2 1107.4L581.6 1107.6L582 1104.5L582.4 1101.3L582.8 1098.2L583.2 1089L583.6 1074L584 1059L584.4 1043.9L584.8 1017.4L585.2 990.9L585.6 964.6L586 947.1L586.4 929.5L586.8 912L587.2 894.3L587.6 876.6L588 858.9L588.4 841.3L588.8 826.1L589.2 813L589.6 799.9L590 786.8L590.4 773.7L590.8 762.9L591.2 754L591.6 745.1L592 736.6L592.4 735.1L592.8 733.5L593.2 733L593.6 733.3L594 733.6L594.4 733.5L594.8 733.5L595.2 734.6L595.6 737.3L596 739.7L596.4 742.2L596.8 744.8L597.2 747.7L597.6 750.5L598 753.3L598.4 756.2L598.8 759L599.2 762.2L599.6 768.2L600 774.3L600.4 780.4L600.8 784.9L601.2 788.4L601.6 791.9L602 795.4L602.4 799L602.8 802.5L603.2 806.5L603.6 810.7L604 814.9L604.4 819.2L604.8 823.4L605.2 827.3L605.6 830.9L606 834.6L606.4 838.2L606.8 841.9L607.2 845.6L607.6 849.6L608 855.7L608.4 861.7L608.8 867.8L609.2 871.6L609.6 874.2L610 876.8L610.4 879.5L610.8 882.1L611.2 884.7L611.6 887.4L612 890L612.4 892.6L612.8 897.2L613.2 902.6L613.6 908.1L614 913.5L614.4 916.7L614.8 918.9L615.2 921.1L615.6 923.3L616 925.4L616.4 927.6L616.8 929.9L617.2 932.3L617.6 934.7L618 937L618.4 939.4L618.8 941.7L619.2 944.1L619.6 946.5L620 948.8L620.4 951.2L620.8 952.5L621.2 953.2L621.6 953.5L622 953.7L622.4 954.5L622.8 958.7L623.2 959.2L623.6 960.1L624 961.5L624.4 963.2L624.8 965.2L625.2 966.9L625.6 968.6L626 970.5L626.4 972.3L626.8 973.7L627.2 974.9L627.6 976L628 977L628.4 978.1L628.8 979.2L629.2 982.8L629.6 983.8L630 984.9L630.4 986L630.8 987.1L631.2 988.1L631.6 989.2L632 990.3L632.4 991.4L632.8 995L633.2 996L633.6 997.1L634 998.2L634.4 999.3L634.8 1000.4L635.2 1001.5L635.6 1002.6L636 1006.3L636.4 1007.6L636.8 1008.5L637.2 1009.1L637.6 1009.3L638 1009L638.4 1008.8L638.8 1009.4L639.2 1009.1L639.6 1008.7L640 1008.4L640.4 1008.1L640.8 1007.8L641.2 1007.4L641.6 1006.2L642 1003.4L642.4 1000.6L642.8 997.7L643.2 991.3L643.6 984.5L644 977.6L644.4 970.8L644.8 963.9L645.2 957.1L645.6 950.2L646 943.3L646.4 939.8L646.8 936.6L647.2 933.5L647.6 930.4L648 928.1L648.4 927.1L648.8 926.1L649.2 925.2L649.6 924.6L650 924.8L650.4 924.8L650.8 924.7L651.2 925.8L651.6 927.6L652 929.9L652.4 931.6L652.8 933.5L653.2 935.4L653.6 937.4L654 939.3L654.4 941.2L654.8 944.2L655.2 947.2L655.6 950.2L656 953.2L656.4 956.2L656.8 958.7L657.2 961.2L657.6 963.7L658 966.2L658.4 968.6L658.8 971.1L659.2 974.9L659.6 978.7L660 982.5L660.4 986.3L660.8 989.4L661.2 992.4L661.6 995.4L662 998.4L662.4 1001.4L662.8 1005L663.2 1008.6L663.6 1012.2L664 1015.8L664.4 1019.4L664.8 1022.9L665.2 1024L665.6 1025L666 1026.3L666.4 1027.4L666.8 1027.9L667.2 1028.5L667.6 1029.1L668 1029.7L668.4 1030.3L668.8 1034.9L669.2 1035.6L669.6 1036L670 1036.3L670.4 1036.2L670.8 1036L671.2 1035.9L671.6 1035.8L672 1035.7L672.4 1037.3L672.8 1037.2L673.2 1037.5L673.6 1037.9L674 1038.4L674.4 1039.1L674.8 1039.5L675.2 1039.8L675.6 1044.5L676 1044.8L676.4 1045L676.8 1045.2L677.2 1045.4L677.6 1045.6L678 1045.8L678.4 1046.1L678.8 1050.7L679.2 1050.9L679.6 1051.3L680 1051.6L680.4 1051.9L680.8 1052.1L681.2 1052.3L681.6 1052.4L682 1056.8L682.4 1056.9L682.8 1057L683.2 1057.1L683.6 1057.2L684 1057.3L684.4 1057.6L684.8 1058.2L685.2 1058.4L685.6 1063.6L686 1064L686.4 1064.3L686.8 1064.1L687.2 1063.9L687.6 1063.8L688 1063.7L688.4 1063.6L688.8 1063.5L689.2 1063.5L689.6 1063.4L690 1063.4L690.4 1062.7L690.8 1058.4L691.2 1054.2L691.6 1049.9L692 1043.7L692.4 1028.3L692.8 1013L693.2 997.6L693.6 982.2L694 966.8L694.4 951.4L694.8 937.5L695.2 929.4L695.6 921.2L696 913.1L696.4 905.6L696.8 900.1L697.2 894.7L697.6 889.2L698 883.4L698.4 876.4L698.8 870.5L699.2 869.1L699.6 867.6L700 866.5L700.4 866.7L700.8 867L701.2 866.9L701.6 867.1L702 869.5L702.4 872.7L702.8 875.9L703.2 879.1L703.6 880.7L704 881.9L704.4 883.3L704.8 885.9L705.2 888.4L705.6 890.9L706 893.4L706.4 895.9L706.8 899.2L707.2 904.4L707.6 909.6L708 914.8L708.4 919.3L708.8 922L709.2 924.7L709.6 927.4L710 930.1L710.4 932.8L710.8 935.5L711.2 938.2L711.6 942L712 946.1L712.4 950.2L712.8 954.4L713.2 958.5L713.6 961.7L714 964.8L714.4 967.9L714.8 970.9L715.2 974L715.6 977L716 980.1L716.4 982.4L716.8 983.3L717.2 984.3L717.6 985.2L718 986.1L718.4 987.7L718.8 990.8L719.2 993.8L719.6 996.9L720 999.9L720.4 1002.2L720.8 1003.2L721.2 1002.7L721.6 1006.1L722 1006.9L722.4 1007.3L722.8 1007.7L723.2 1008L723.6 1008.1L724 1008.3L724.4 1008.5L724.8 1008.6L725.2 1013L725.6 1013.1L726 1013.3L726.4 1013.5L726.8 1013.6L727.2 1013.8L727.6 1014.2L728 1014.6L728.4 1019.2L728.8 1019.5L729.2 1019.9L729.6 1020.3L730 1020.8L730.4 1021.3L730.8 1021.9L731.2 1022.5L731.6 1026.9L732 1027.5L732.4 1028.1L732.8 1028.7L733.2 1029.2L733.6 1029.8L734 1030.4L734.2 1030.8" stroke-width="1.6"/>
<path d="M983.3 1090.6L983.8 1090.6L984.3 1090.6L984.8 1090.7L985.3 1090.7L985.8 1090.9L986.3 1091L986.8 1091.2L987.3 1091.5L987.8 1092.6L988.3 1094.1L988.8 1095.7L989.3 1097.2L989.8 1098.3L990.3 1098.7L990.8 1099L991.3 1099.2L991.8 1099.6L992.3 1100.2L992.8 1101L993.3 1102.2L993.8 1103.2L994.3 1103.3L994.8 1102.4L995.3 1100.5L995.8 1097.7L996.3 1094.8L996.8 1091.2L997.3 1085.2L997.8 1076.6L998.3 1063.3L998.8 1043.3L999.3 1018.5L999.8 989.4L1000.3 956.7L1000.8 926.4L1001.3 900.2L1001.8 878L1002.3 859.8L1002.8 844.9L1003.3 830.7L1003.8 817.3L1004.3 804.7L1004.8 793.2L1005.3 783.4L1005.8 775.2L1006.3 768.8L1006.8 765L1007.3 763.6L1007.8 764.3L1008.3 766.8L1008.8 770.4L1009.3 774.1L1009.8 777.4L1010.3 780.5L1010.8 783.6L1011.3 786.6L1011.8 789.7L1012.3 792.8L1012.8 795.8L1013.3 799.2L1013.8 804.2L1014.3 809.7L1014.8 815.2L1015.3 820.7L1015.8 825.1L1016.3 828.5L1016.8 832.9L1017.3 838.2L1017.8 844.1L1018.3 850.4L1018.8 856.5L1019.3 862L1019.8 867.1L1020.3 872L1020.8 876.8L1021.3 881.4L1021.8 886.1L1022.3 891L1022.8 896.2L1023.3 901L1023.8 904.9L1024.3 907.8L1024.8 909.7L1025.3 911.2L1025.8 913.2L1026.3 915.9L1026.8 919.2L1027.3 923L1027.8 926.8L1028.3 930.7L1028.8 934.6L1029.3 938.5L1029.8 942.4L1030.3 946.3L1030.8 950.2L1031.3 953.8L1031.8 956.8L1032.3 959.3L1032.8 961.2L1033.3 962.8L1033.8 964.3L1034.3 965.9L1034.8 967.6L1035.3 969.3L1035.8 971.1L1036.3 972.8L1036.8 974.9L1037.3 977.6L1037.8 980.7L1038.3 983.6L1038.8 986.4L1039.3 988.6L1039.8 990.2L1040.3 991.7L1040.8 993.2L1041.3 994.6L1041.8 996.1L1042.3 997.5L1042.8 998.9L1043.3 1000.3L1043.8 1001.7L1044.3 1003.1L1044.8 1004.7L1045.3 1006.4L1045.8 1008.1L1046.3 1009.9L1046.8 1011.5L1047.3 1012.9L1047.8 1014L1048.3 1014.9L1048.8 1015.6L1049.3 1016.2L1049.8 1017L1050.3 1018L1050.8 1019.2L1051.3 1020.7L1051.8 1022.1L1052.3 1023.2L1052.8 1023.9L1053.3 1024.2L1053.8 1024.2L1054.3 1024.2L1054.8 1024.1L1055.3 1024.1L1055.8 1024.1L1056.3 1024.1L1056.8 1024L1057.3 1022.8L1057.8 1020.3L1058.3 1015.6L1058.8 1007.4L1059.3 996L1059.8 981.2L1060.3 963L1060.8 944.3L1061.3 926.1L1061.8 909.5L1062.3 895.4L1062.8 883.4L1063.3 872.1L1063.8 861.7L1064.3 851.6L1064.8 842.5L1065.3 834.9L1065.8 828.4L1066.3 823.8L1066.8 820.9L1067.3 819.6L1067.8 819.9L1068.3 821.4L1068.8 823.6L1069.3 826.5L1069.8 829.5L1070.3 832.6L1070.8 835.9L1071.3 839.9L1071.8 844.5L1072.3 849.9L1072.8 855.7L1073.3 861.3L1073.8 866.3L1074.3 870.7L1074.8 875.9L1075.3 882L1075.8 888.5L1076.3 895.5L1076.8 902.4L1077.3 908.3L1077.8 914.2L1078.3 920.1L1078.8 925.6L1079.3 930.6L1079.8 935.1L1080.3 939L1080.8 942.5L1081.3 946L1081.8 949.5L1082.3 953.1L1082.8 956.7L1083.3 960.3L1083.8 964L1084.3 967.6L1084.8 971.2L1085.3 974.4L1085.8 977.1L1086.3 979.3L1086.8 981L1087.3 982.4L1087.8 983.8L1088.3 985.2L1088.8 986.7L1089.3 988.1L1089.8 989.6L1090.3 991L1090.8 992.5L1091.3 994L1091.8 995.4L1092.3 996.8L1092.8 998L1093.3 999.2L1093.8 1000.3L1094.3 1001.4L1094.8 1002.5L1095.3 1003.6L1095.8 1004.8L1096.3 1006.1L1096.8 1007.7L1097.3 1009.3L1097.8 1011.1L1098.3 1012.9L1098.8 1014.6L1099.3 1016.4L1099.8 1018.1L1100.3 1019.6L1100.8 1021.1L1101.3 1022.4L1101.8 1023.7L1102.3 1024.9L1102.8 1026.2L1103.3 1027.5L1103.8 1028.8L1104.3 1030.2L1104.8 1031.7L1105.3 1033.2L1105.8 1034.5L1106.3 1035.4L1106.8 1035.9L1107.3 1036.1L1107.8 1036L1108.3 1035.9L1108.8 1035.8L1109.3 1035.3L1109.8 1034.1L1110.3 1032.1L1110.8 1027.3L1111.3 1019.4L1111.8 1009L1112.3 996L1112.8 981.6L1113.3 967.6L1113.8 953.8L1114.3 940.5L1114.8 929L1115.3 919.3L1115.8 911.7L1116.3 905.9L1116.8 901.6L1117.3 897.5L1117.8 893.6L1118.3 890.2L1118.8 887L1119.3 884.1L1119.8 882.3L1120.3 881.7L1120.8 882.4L1121.3 884.3L1121.8 887.6L1122.3 891.5L1122.8 896.1L1123.3 901.3L1123.8 906.7L1124.3 911.9L1124.8 916.8L1125.3 921.4L1125.8 925.9L1126.3 930.4L1126.8 935L1127.3 939.6L1127.8 944.3L1128.3 948.9L1128.8 953.5L1129.3 957.9L1129.8 962.1L1130.3 966.2L1130.8 970.3L1131.3 974.3L1131.8 978.4L1132.3 982.4L1132.8 986.5L1133.3 990.5L1133.8 994.6L1134.3 998.6L1134.8 1002.7L1135.3 1006.7L1135.8 1010.8L1136.3 1015L1136.8 1019.3L1137.3 1023.5L1137.8 1027L1138.3 1029.5L1138.8 1031.1L1139.3 1031.7L1139.8 1031.9L1140.3 1032.2L1140.8 1032.4L1141.3 1032.6L1141.8 1033.2L1142.3 1034L1142.8 1035.3L1143.3 1036.8L1143.8 1038.1L1144.3 1039.2L1144.8 1040L1145.3 1040.5L1145.8 1040.9L1146.3 1041.7L1146.8 1042.9L1147.3 1044.5L1147.8 1046.5L1148.3 1048.5L1148.8 1050.4L1149.3 1052L1149.8 1053.5L1150.3 1054.7L1150.8 1055.8L1151.3 1056.9L1151.8 1058L1152.3 1059.1L1152.8 1060.2L1153.3 1061.3L1153.8 1062.5L1154.3 1063.7L1154.8 1065L1155.3 1066.4L1155.8 1067.7L1156.3 1069.1L1156.8 1070.5L1157.3 1071.8L1157.8 1073.1L1158.3 1074.3L1158.8 1075.5L1159.3 1076.6L1159.8 1077.6L1160.3 1078.6L1160.8 1079.7L1161.3 1080.7L1161.8 1081.9L1162.3 1083.2L1162.8 1084.5L1163.3 1086L1163.8 1087.5L1164.3 1088.9L1164.8 1090.1L1165.3 1091L1165.8 1091.5L1166.3 1091.7L1166.8 1091.9L1167.3 1092.1L1167.8 1092.6L1168.3 1093.5L1168.8 1094.7L1169.3 1096.2L1169.8 1097.5L1170.3 1098.5L1170.8 1099.1L1171.3 1099.3L1171.8 1099.4L1172.3 1099.7L1172.8 1100.3L1173.3 1101.4L1173.8 1102.9L1174.3 1104.5L1174.8 1105.7L1175.3 1106.6L1175.8 1107L1176.3 1107.2L1176.8 1107.4L1177.3 1107.6L1177.8 1107.5L1178.3 1106.8L1178.8 1105.4L1179.3 1102.3L1179.8 1093.8L1180.3 1080.4L1180.8 1060.7L1181.3 1032.8L1181.8 1002.1L1182.3 972.7L1182.8 944.9L1183.3 922.1L1183.8 904.9L1184.3 890L1184.8 875.8L1185.3 861.6L1185.8 846.2L1186.3 830L1186.8 814.4L1187.3 800.3L1187.8 788.5L1188.3 779.5L1188.8 772.6L1189.3 767.9L1189.8 765.3L1190.3 764.1L1190.8 764.3L1191.3 765.7L1191.8 768.3L1192.3 771.8L1192.8 775.9L1193.3 780.1L1193.8 783.9L1194.3 787.5L1194.8 791.6L1195.3 796.2L1195.8 801.3L1196.3 806.3L1196.8 810.9L1197.3 814.7L1197.8 818.3L1198.3 822.3L1198.8 826.9L1199.3 832.1L1199.8 838L1200.3 843.9L1200.8 849.9L1201.3 855.9L1201.8 861.7L1202.3 867.4L1202.8 873L1203.3 878.3L1203.8 883.5L1204.3 888.6L1204.8 893.6L1205.3 898.3L1205.8 902.6L1206.3 906.5L1206.8 910L1207.3 913.1L1207.8 916.1L1208.3 919.2L1208.8 922.2L1209.3 925.3L1209.8 928.5L1210.3 931.7L1210.8 935.2L1211.3 938.7L1211.8 942.2L1212.3 945.7L1212.8 949.3L1213.3 952.6L1213.8 955.3L1214.3 957.5L1214.8 959.2L1215.3 960.7L1215.8 963.1L1216.3 966.5L1216.8 970.6L1217.3 974.8L1217.8 978.3L1218.3 980.9L1218.8 982.6L1219.3 984.1L1219.8 986.2L1220.3 988.6L1220.8 991.5L1221.3 994.7L1221.8 997.5L1222.3 1000L1222.8 1002L1223.3 1003.8L1223.8 1005.5L1224.3 1007.2L1224.8 1008.9L1225.3 1010.6L1225.8 1012.3L1226.3 1014.1L1226.8 1015.8L1227.3 1017.6L1227.8 1019.4L1228.3 1021.3L1228.8 1023.4L1229.3 1025.7L1229.8 1028.2L1230.3 1030.7L1230.8 1033L1231.3 1034.9L1231.8 1036.6L1232.3 1038L1232.8 1039.4L1233.3 1040.7L1233.8 1042.1L1234.3 1043.4L1234.8 1044.8L1235.3 1046.2L1235.8 1047.5L1236.3 1048.9L1236.8 1050.2L1237.3 1051.6L1237.8 1052.9L1238.3 1054.3L1238.8 1055.7L1239.3 1057L1239.8 1058.4L1240.3 1059.7L1240.8 1061.1L1241.3 1062.4L1241.8 1063.8L1242.3 1065.2L1242.8 1066.5L1243.3 1067.9L1243.8 1069.3L1244.3 1070.6L1244.8 1072.1L1245.3 1073.5L1245.8 1074.7L1246.3 1075.6L1246.8 1076.3L1247.3 1076.7L1247.8 1076.9L1248.3 1077.1L1248.8 1077.3L1249.3 1077.4L1249.8 1077.6L1250.3 1077.8L1250.8 1077.7L1251.3 1076.9L1251.8 1075.2L1252.3 1070.4L1252.8 1060.7L1253.3 1046.4L1253.8 1026.7L1254.3 1002.4L1254.8 978.8L1255.3 957L1255.8 937.5L1256.3 919.8L1256.8 902.8L1257.3 884.2L1257.8 864.6L1258.3 844.9L1258.8 825.7L1259.3 808.3L1259.8 793L1260.3 779.4L1260.8 768.9L1261.3 761.5L1261.8 756.3L1262.3 753.3L1262.8 752L1263.3 751.9L1263.8 752.8L1264.3 754.4L1264.8 756.7L1265.3 759.7L1265.8 763L1266.3 766.5L1266.8 770.2L1267.3 774.4L1267.8 779.1L1268.3 784.5L1268.8 790.3L1269.3 796L1269.8 801.3L1270.3 806.2L1270.8 810.5L1271.3 815.3L1271.8 820.6L1272.3 826.7L1272.8 833.3L1273.3 840.3L1273.8 847L1274.3 853.4L1274.8 859.5L1275.3 865L1275.8 869.9L1276.3 874.3L1276.8 878.1L1277.3 881.6L1277.8 885L1278.3 888.2L1278.8 891.3L1279.3 894.3L1279.8 897L1280.3 899.6L1280.8 902.2L1281.3 905.1L1281.8 908.1L1282.3 911.5L1282.8 915.1L1283.3 919L1283.8 922.8L1284.3 926.8L1284.8 930.8L1285.3 934.9L1285.8 939.1L1286.3 943.4L1286.8 947.7L1287.3 951.4L1287.8 954.4L1288.3 956.6L1288.8 958L1289.3 959.2L1289.8 961L1290.3 963.3L1290.8 966.1L1291.3 969.3L1291.8 972.4L1292.3 975.4L1292.8 978.2L1293.3 980.7L1293.8 982.9L1294.3 985L1294.8 987.1L1295.3 989L1295.8 990.9L1296.3 992.7L1296.8 994.4L1297.3 996.1L1297.8 997.7L1298.3 999.3L1298.8 1000.9L1299.3 1002.5L1299.8 1004.2L1300.3 1005.8L1300.8 1007.4L1301.3 1009L1301.8 1010.4L1302.3 1011.7L1302.8 1013L1303.3 1014.2L1303.8 1015.3L1304.3 1016.5L1304.8 1017.7L1305.3 1019.5L1305.8 1021.6L1306.3 1023.4L1306.8 1025L1307.3 1026L1307.8 1026.1L1308.3 1025.9L1308.8 1025.7L1309.3 1025L1309.8 1023.4L1310.3 1020L1310.8 1014.7L1311.3 1007.6L1311.8 998.7L1312.3 989.2L1312.8 979.5L1313.3 970.1L1313.8 961L1314.3 952.2L1314.8 943.6L1315.3 935.7L1315.8 929.3L1316.3 924.4L1316.8 921L1317.3 919.2L1317.8 917.8L1318.3 916.8L1318.8 916.3L1319.3 916.1L1319.8 916L1320.3 916.7L1320.8 918.2L1321.3 920.6L1321.8 923.7L1322.3 927.5L1322.8 931.2L1323.3 934.8L1323.8 938.3L1324.3 941.7L1324.8 945.2L1325.3 948.7L1325.8 952.2L1326.3 955.7L1326.8 959.2L1327.3 962.7L1327.8 966.1L1328.3 969.6L1328.8 972.9L1329.3 976.2L1329.8 979.7L1330.3 983.6L1330.8 988L1331.3 992.8L1331.8 997.9L1332.3 1003L1332.8 1008.1L1333.3 1013L1333.8 1017.8L1334.3 1022.7L1334.8 1027L1335.3 1030.4L1335.8 1032.8L1336.3 1034.2L1336.8 1034.7L1337.3 1035.1L1337.8 1035.6L1338.3 1036.3L1338.8 1037.4L1339.3 1038.7L1339.8 1040.2L1340.3 1041.6L1340.8 1042.9L1341.3 1044L1341.8 1045.1L1342.3 1046.1L1342.8 1047.1L1343.3 1047.8L1343.8 1048.3L1344.3 1048.7L1344.8 1048.9L1345.3 1049L1345.8 1049.2L1346.3 1049.7L1346.8 1050.3L1347.3 1051.2L1347.8 1052.2L1348.3 1053.2L1348.8 1054.3L1349.3 1055.6L1349.8 1056.9L1350.3 1058.4L1350.8 1060L1351.3 1061.6L1351.8 1063.2L1352.3 1064.7L1352.8 1066.3L1353.3 1067.6L1353.8 1068.8L1354.3 1069.9L1354.8 1070.8L1355.3 1071.8L1355.8 1072.7L1356.3 1073.6L1356.8 1074.6L1357.3 1075.6L1357.8 1076.7L1358.3 1077.9L1358.8 1079.2L1359.3 1080.4L1359.8 1081.7L1360.3 1083L1360.8 1084.1L1361.3 1085.2L1361.8 1086L1362.3 1086.8L1362.8 1087.4L1363.3 1088L1363.8 1088.7L1364.3 1089.6L1364.8 1090.8L1365.3 1092.2L1365.8 1093.6L1366.3 1094.7L1366.8 1095.5L1367.3 1096L1367.8 1096.2L1368.3 1096.4L1368.8 1096.7L1369.3 1096.9L1369.8 1097.1L1370.3 1097.3L1370.8 1097.6L1371.3 1097.8L1371.8 1098L1372.3 1098.2L1372.8 1098.4L1373.3 1098.7L1373.8 1098.9L1374.3 1099.1L1374.8 1098.7L1375.3 1097.5L1375.8 1095.3L1376.3 1090.1L1376.8 1079.7L1377.3 1064.3L1377.8 1042.7L1378.3 1015L1378.8 987L1379.3 960.1L1379.8 935.6L1380.3 914.7L1380.8 896.8L1381.3 879.7L1381.8 863.7L1382.3 848.6L1382.8 834.7L1383.3 822.3L1383.8 810.9L1384.3 801.3L1384.8 793.8L1385.3 787.9L1385.8 783.7L1386.3 781L1386.8 779.6L1387.3 779.6L1387.8 780.9L1388.3 783.3L1388.8 786.6L1389.3 789.9L1389.8 793.2L1390.3 796.6L1390.8 800.1L1391.3 803.8L1391.8 807.6L1392.3 811.7L1392.8 815.8L1393.3 820.2L1393.8 824.9L1394.3 830L1394.8 835.4L1395.3 841L1395.8 846.5L1396.3 851.9L1396.8 857.5L1397.3 863.1L1397.8 868.9L1398.3 874.9L1398.8 881.3L1399.3 888.3L1399.8 894.7L1400.3 900.3L1400.8 904.9L1401.3 908.1L1401.8 910.4L1402.3 912.6L1402.8 915.1L1403.3 917.8L1403.8 920.8L1404.3 924L1404.8 927.4L1405.3 930.8L1405.8 934.2L1406.3 937.6L1406.8 941.1L1407.3 944.7L1407.8 948.5L1408.3 952.5L1408.8 956.6L1409.3 960.6L1409.8 964.7L1410.3 968.7L1410.8 972.7L1411.3 976.4L1411.8 980.1L1412.3 983.6L1412.8 986.9L1413.3 989.9L1413.8 992.4L1414.3 994.6L1414.8 996.4L1415.3 997.9L1415.8 999.7L1416.3 1001.5L1416.8 1003.6L1417.3 1005.7L1417.8 1008L1418.3 1010.3L1418.8 1012.7L1419.3 1015.1L1419.8 1017.7L1420.3 1020.3L1420.8 1023.1L1421.3 1025.8L1421.8 1028.4L1422.3 1030.8L1422.8 1033.1L1423.3 1035.2L1423.8 1037.3L1424.3 1039.3L1424.8 1041.4L1425.3 1043.4L1425.8 1045.4L1426.3 1047.4L1426.8 1049.4L1427.3 1051.3L1427.8 1053.3L1428.3 1055.2L1428.8 1057.1L1429.3 1059L1429.8 1060.9L1430.3 1062.8L1430.8 1064.6L1431.3 1066.3L1431.8 1067.9L1432.3 1069.3L1432.8 1070.7L1433.3 1072.1L1433.8 1073.5L1434.3 1074.9L1434.8 1076.2L1435.3 1077.5L1435.8 1078.7L1436.3 1079.8L1436.8 1080.9L1437.3 1082L1437.8 1083.2L1438.3 1084.3L1438.8 1085.4L1439.3 1086.5L1439.8 1087.6L1440.3 1088.8L1440.8 1090L1441.3 1091.2L1441.8 1092.4L1442.3 1093.6L1442.8 1094.8L1443.3 1096L1443.8 1097L1444.3 1097.8L1444.8 1098.3L1445.3 1098.6L1445.8 1098.8L1446.3 1099L1446.8 1099.5L1447.3 1100.5L1447.8 1101.8L1448.3 1103.4L1448.8 1104.9L1449.3 1106L1449.8 1106.7L1450.3 1107L1450.8 1107.2L1451.3 1107.2L1451.8 1106.4L1452.3 1104.7L1452.8 1101.3L1453.3 1093.6L1453.8 1082.2L1454.3 1066.1L1454.8 1043.5L1455.3 1017.3L1455.8 990.2L1456.3 962.7L1456.8 937.2L1457.3 914.1L1457.8 892.1L1458.3 870.2L1458.8 849.5L1459.3 830L1459.8 811.9L1460.3 795.1L1460.8 780L1461.3 766.1L1461.8 754L1462.3 745L1462.8 738.7L1463.3 734.9L1463.8 733.6L1464.3 733.2L1464.8 733.4L1465.3 734.4L1465.8 736.1L1466.3 738.4L1466.8 741.4L1467.3 744.7L1467.8 748.1L1468.3 751.6L1468.8 755.2L1469.3 759.6L1469.8 764.8L1470.3 770.9L1470.8 777.2L1471.3 783.2L1471.8 788.6L1472.3 793.2L1472.8 797.7L1473.3 802.4L1473.8 807.3L1474.3 812.3L1474.8 817.5L1475.3 822.6L1475.8 827.5L1476.3 832.3L1476.8 836.9L1477.3 841.6L1477.8 846.9L1478.3 853L1478.8 859.3L1479.3 865.4L1479.8 870.7L1480.3 875L1480.8 878.5L1481.3 881.8L1481.8 885.1L1482.3 888.5L1482.8 892.8L1483.3 897.8L1483.8 903.4L1484.3 909.1L1484.8 914.1L1485.3 918.2L1485.8 921.3L1486.3 924.1L1486.8 926.9L1487.3 929.7L1487.8 932.6L1488.3 935.5L1488.8 938.5L1489.3 941.5L1489.8 944.4L1490.3 947.3L1490.8 949.8L1491.3 951.9L1491.8 953.6L1492.3 955L1492.8 956.3L1493.3 957.6L1493.8 959.2L1494.3 960.9L1494.8 962.8L1495.3 964.9L1495.8 967.1L1496.3 969.3L1496.8 971.3L1497.3 973.3L1497.8 975.1L1498.3 976.9L1498.8 978.6L1499.3 980.3L1499.8 982L1500.3 983.8L1500.8 985.5L1501.3 987.2L1501.8 989L1502.3 990.7L1502.8 992.4L1503.3 994.1L1503.8 995.9L1504.3 997.6L1504.8 999.3L1505.3 1001.1L1505.8 1002.8L1506.3 1004.5L1506.8 1006.3L1507.3 1007.9L1507.8 1009L1508.3 1009.6L1508.8 1009.8L1509.3 1009.5L1509.8 1009.1L1510.3 1008.7L1510.8 1008.3L1511.3 1007.6L1511.8 1006.3L1512.3 1004.2L1512.8 1000.9L1513.3 995.7L1513.8 989.3L1514.3 981.8L1514.8 973.3L1515.3 964.8L1515.8 956.4L1516.3 949L1516.8 942.7L1517.3 937.4L1517.8 933.5L1518.3 930.5L1518.8 928.1L1519.3 926.4L1519.8 925.6L1520.3 925.1L1520.8 925.1L1521.3 925.9L1521.8 927.2L1522.3 928.9L1522.8 931.1L1523.3 933.3L1523.8 935.7L1524.3 938.2L1524.8 941.1L1525.3 944.2L1525.8 947.6L1526.3 951.3L1526.8 954.8L1527.3 958.2L1527.8 961.5L1528.3 964.6L1528.8 968L1529.3 971.7L1529.8 975.7L1530.3 980.1L1530.8 984.5L1531.3 988.7L1531.8 992.7L1532.3 996.6L1532.8 1000.6L1533.3 1004.7L1533.8 1009.1L1534.3 1013.5L1534.8 1017.5L1535.3 1020.9L1535.8 1023.5L1536.3 1025.4L1536.8 1026.7L1537.3 1028L1537.8 1029.3L1538.3 1030.6L1538.8 1031.9L1539.3 1033.2L1539.8 1034.4L1540.3 1035.3L1540.8 1035.9L1541.3 1036.3L1541.8 1036.3L1542.3 1036.3L1542.8 1036.5L1543.3 1037L1543.8 1037.8L1544.3 1038.8L1544.8 1040.1L1545.3 1041.4L1545.8 1042.5L1546.3 1043.6L1546.8 1044.6L1547.3 1045.4L1547.8 1046.3L1548.3 1047.2L1548.8 1048.1L1549.3 1049.1L1549.8 1050.2L1550.3 1051.3L1550.8 1052.3L1551.3 1053.4L1551.8 1054.3L1552.3 1055.2L1552.8 1055.9L1553.3 1056.5L1553.8 1057.2L1554.3 1057.9L1554.8 1058.8L1555.3 1059.9L1555.8 1061.2L1556.3 1062.4L1556.8 1063.3L1557.3 1063.8L1557.8 1064L1558.3 1064L1558.8 1063.8L1559.3 1063.7L1559.8 1063.6L1560.3 1062.8L1560.8 1060.9L1561.3 1057.8L1561.8 1052.3L1562.3 1042.8L1562.8 1030.1L1563.3 1014.3L1563.8 995.7L1564.3 976.5L1564.8 958.9L1565.3 943.3L1565.8 929.8L1566.3 918.7L1566.8 909.7L1567.3 901.5L1567.8 893.8L1568.3 886.4L1568.8 879.8L1569.3 874.3L1569.8 870.1L1570.3 867.9L1570.8 867.2L1571.3 866.9L1571.8 867.7L1572.3 869.5L1572.8 872L1573.3 875.1L1573.8 878.2L1574.3 880.9L1574.8 883.4L1575.3 885.9L1575.8 888.7L1576.3 891.9L1576.8 895.7L1577.3 900.2L1577.8 905.5L1578.3 911.1L1578.8 916.4L1579.3 921L1579.8 925L1580.3 928.4L1580.8 931.7L1581.3 935.4L1581.8 939.4L1582.3 943.9L1582.8 948.7L1583.3 953.6L1583.8 958.3L1584.3 962.6L1584.8 966.7L1585.3 970.5L1585.8 974.3L1586.3 977.7L1586.8 980.5L1587.3 982.7L1587.8 984.4L1588.3 985.9L1588.8 988.1L1589.3 990.9L1589.8 994.2L1590.3 997.6L1590.8 1000.4L1591.3 1002.6L1591.8 1004.2L1592.3 1005.3L1592.8 1006.5L1593.3 1007.6L1593.8 1008.6L1594.3 1009.5L1594.8 1010.4L1595.3 1011.2L1595.8 1012L1596.3 1012.8L1596.8 1013.6L1597.3 1014.5L1597.8 1015.4L1598.3 1016.5L1598.8 1017.5L1599.3 1018.7L1599.8 1019.8L1600.3 1021L1600.8 1022.2L1601.3 1023.5L1601.8 1024.8L1602.3 1026.1L1602.8 1027.4L1603.3 1028.7" stroke-width="1.7"/>
</g>
<rect x="218.6" y="122.7" width="10" height="375.4" fill="none" stroke="#FF0000" stroke-width="1.5"/>
<g font-family="'Liberation Sans', Arial, sans-serif" font-weight="bold" font-size="42.9" fill="#000">
<text x="2.0" y="33">A</text>
<text x="867.3" y="33.2">B</text>
<text x="1" y="661.3">C</text>
<text x="865.9" y="660.2">D</text>
</g>
</svg>
</body>
</html>
